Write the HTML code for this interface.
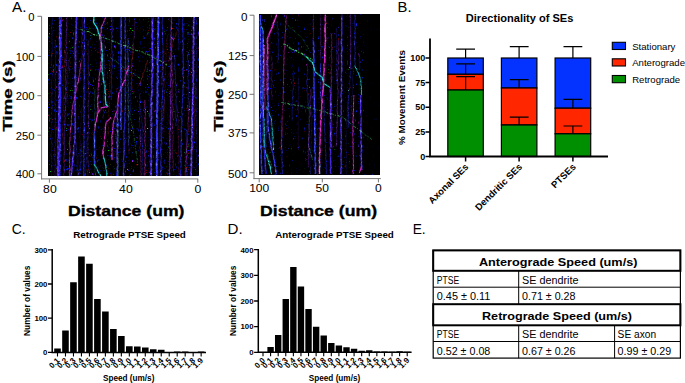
<!DOCTYPE html>
<html><head><meta charset="utf-8"><title>Figure</title>
<style>
html,body{margin:0;padding:0;background:#fff;}
body{width:685px;height:383px;overflow:hidden;font-family:"Liberation Sans",sans-serif;}
svg{display:block;font-family:"Liberation Sans",sans-serif;}
</style></head><body>
<svg width="685" height="383" viewBox="0 0 685 383">
<rect width="685" height="383" fill="#fff"/>
<defs>
<filter id="spk" x="-5%" y="-5%" width="110%" height="110%" color-interpolation-filters="sRGB">
<feTurbulence type="fractalNoise" baseFrequency="0.5 0.33" numOctaves="2" seed="4" result="n"/>
<feColorMatrix in="n" type="matrix" values="0 0 0 0 0 0 0 0 0 0 0 0 0 0 0 2.8 0 0 0 -0.4" result="a1"/>
<feComposite in="SourceGraphic" in2="a1" operator="in" result="s1"/>
<feGaussianBlur in="s1" stdDeviation="0.33" result="s1b"/>
<feColorMatrix in="n" type="matrix" values="0 0 0 0 0 0 0 0 0 0 0 0 0 0 0 0 5 0 0 -2.75" result="a2"/>
<feComposite in="SourceGraphic" in2="a2" operator="in" result="s2"/>
<feColorMatrix in="s2" type="matrix" values="0.75 0 0 0 0.3 0 0.75 0 0 0.3 0 0 0.75 0 0.3 0 0 0 1 0" result="s2w"/>
<feGaussianBlur in="s2w" stdDeviation="0.4" result="s2b"/>
<feGaussianBlur in="SourceGraphic" stdDeviation="1.4" result="g"/>
<feColorMatrix in="g" type="matrix" values="1 0 0 0 0 0 1 0 0 0 0 0 1 0 0 0 0 0 0.18 0" result="g2"/>
<feMerge><feMergeNode in="g2"/><feMergeNode in="s1b"/><feMergeNode in="s2b"/></feMerge>
</filter>
<filter id="nzA" x="0" y="0" width="100%" height="100%" color-interpolation-filters="sRGB">
<feTurbulence type="fractalNoise" baseFrequency="0.55 0.22" numOctaves="3" seed="11" result="n"/>
<feColorMatrix in="n" type="matrix" values="1.6 2.4 0 0 -2.7  0.9 0 0 0 -0.62  4.5 0 0 0 -2.95  0 0 0 0 1"/>
</filter>
<filter id="nzB" x="0" y="0" width="100%" height="100%" color-interpolation-filters="sRGB">
<feTurbulence type="fractalNoise" baseFrequency="0.55 0.22" numOctaves="3" seed="23" result="n"/>
<feColorMatrix in="n" type="matrix" values="1.6 2.4 0 0 -2.8  0.9 0 0 0 -0.64  4.5 0 0 0 -3.1  0 0 0 0 1"/>
</filter>
<filter id="dotA" x="0" y="0" width="100%" height="100%" color-interpolation-filters="sRGB">
<feTurbulence type="fractalNoise" baseFrequency="0.95" numOctaves="1" seed="31" result="n"/>
<feColorMatrix in="n" type="matrix" values="6 0 0 0 -4.1  0 6 0 0 -4.1  0 0 6 0 -3.9  0 0 0 0 1" result="c"/>
<feColorMatrix in="c" type="matrix" values="1 0 0 0 0 0 1 0 0 0 0 0 1 0 0 1 1 1 0 0"/>
</filter>
<filter id="dotB" x="0" y="0" width="100%" height="100%" color-interpolation-filters="sRGB">
<feTurbulence type="fractalNoise" baseFrequency="0.95" numOctaves="1" seed="47" result="n"/>
<feColorMatrix in="n" type="matrix" values="6 0 0 0 -4.25  0 6 0 0 -4.25  0 0 6 0 -4.1  0 0 0 0 1" result="c"/>
<feColorMatrix in="c" type="matrix" values="1 0 0 0 0 0 1 0 0 0 0 0 1 0 0 1 1 1 0 0"/>
</filter>
</defs>

<text x="12" y="11.8" font-size="15" text-anchor="start" fill="#000" textLength="14.4" lengthAdjust="spacingAndGlyphs">A.</text>
<rect x="48.5" y="17" width="150.0" height="158.8" fill="#03020c"/>
<rect x="48.5" y="17" width="150.0" height="158.8" filter="url(#nzA)"/>
<rect x="48.5" y="17" width="150.0" height="158.8" filter="url(#dotA)"/>
<g filter="url(#spk)">
<polyline points="60.2,17.0 60.1,19.0 60.4,21.1 60.0,23.1 60.3,25.2 60.2,27.2 60.0,29.3 60.2,31.3 59.9,33.4 60.2,35.4 59.9,37.5 59.9,39.5 60.1,41.6 60.4,43.6 59.9,45.7 60.0,47.7 60.2,49.8 60.4,51.8 60.2,53.9 60.1,55.9 60.4,58.0 59.8,60.0 60.3,62.0 59.9,64.0 59.8,66.0 59.8,68.0 59.8,70.0 60.1,72.0 59.7,74.0 59.9,76.0 59.9,78.0 59.7,80.0 59.8,82.0 59.5,84.0 59.5,86.0 59.5,88.0 59.8,90.0 59.6,92.0 59.5,94.0 59.6,96.0 59.5,98.0 59.4,100.0 59.7,102.0 59.6,104.0 59.3,106.0 59.5,108.0 59.4,110.0 59.6,112.0 59.4,114.0 59.1,116.0 59.5,118.0 58.9,120.0 59.0,122.0 59.2,124.0 58.8,126.0 58.9,128.0 58.6,130.0 58.9,132.0 58.9,134.0 58.8,136.0 58.9,138.0 58.5,140.0 58.7,142.0 58.6,144.0 58.6,146.0 58.5,148.0 58.7,150.0 58.7,152.0 58.4,154.0 58.5,156.0 58.1,158.0 58.4,160.0 58.4,162.0 58.6,164.0 58.4,166.0 58.1,168.0 58.1,170.0 58.3,172.0 57.8,174.0 58.1,176.0" fill="none" stroke="#4e2cf2" stroke-width="2.21" stroke-opacity="1.0"/>
<polyline points="61.2,17.0 61.0,19.0 60.9,21.1 60.9,23.1 61.3,25.2 60.9,27.2 61.0,29.2 61.0,31.3 61.3,33.3 60.8,35.3 61.0,37.4 61.1,39.4 61.2,41.5 61.2,43.5 61.2,45.5 60.8,47.6 60.9,49.6 60.9,51.7 61.2,53.7 61.2,55.7 60.7,57.8 60.7,59.8 60.7,61.8 60.7,63.9 60.8,65.9 60.9,68.0 60.7,70.0 60.5,72.0 60.7,74.0 60.7,76.0 60.8,78.0 61.0,80.0 60.8,82.0 60.7,84.0 60.7,86.0 60.7,88.0 60.3,90.0 60.8,92.0 60.7,94.0 60.8,96.0 60.7,98.0 60.5,100.0 60.4,102.0 60.2,104.0 60.5,106.0 60.2,108.0 60.2,110.0 60.2,112.0 60.2,114.0 60.3,116.0 60.1,118.0 60.0,120.0 60.1,122.0 60.1,124.0 60.2,126.0 60.0,128.0 60.5,130.0 60.3,132.0 60.0,134.0 60.0,136.0 60.1,138.0 60.1,140.0 59.9,142.0 60.3,144.0 60.4,146.0 60.0,148.0 60.0,150.0 59.8,152.0 59.8,154.0 59.9,156.0 59.8,158.0 60.1,160.0 59.7,162.0 59.6,164.0 60.2,166.0 59.9,168.0 59.6,170.0 59.9,172.0 59.5,174.0 59.8,176.0" fill="none" stroke="#2a28f4" stroke-width="1.10" stroke-opacity="0.9"/>
<polyline points="52.0,17.0 52.5,19.0 52.4,21.0 52.2,23.0 51.7,25.1 51.8,27.1 51.6,29.1 52.2,31.1 52.0,33.1 52.2,35.1 51.8,37.1 51.7,39.1 52.2,41.2 52.4,43.2 52.3,45.2 52.2,47.2 52.2,49.2 52.1,51.2 51.6,53.2 51.9,55.2 51.7,57.3 51.4,59.3 51.4,61.3 51.6,63.3 51.6,65.3 52.0,67.3 52.3,69.3 51.8,71.3 52.3,73.4 52.3,75.4 52.3,77.4 51.7,79.4 51.5,81.4 51.5,83.4 51.5,85.4 51.5,87.4 51.9,89.5 52.2,91.5 52.1,93.5 51.7,95.5 51.9,97.5 52.0,99.5 51.3,101.5 51.9,103.5 52.1,105.6 52.0,107.6 52.0,109.6 51.7,111.6 51.4,113.6 52.0,115.6 51.5,117.6 52.0,119.6 52.1,121.7 51.6,123.7 51.6,125.7 52.1,127.7 51.9,129.7 51.3,131.7 51.3,133.7 51.3,135.7 52.0,137.8 51.9,139.8 51.3,141.8 51.9,143.8 52.1,145.8 51.7,147.8 51.4,149.8 51.6,151.8 51.2,153.9 51.1,155.9 52.0,157.9 51.7,159.9 51.6,161.9 52.0,163.9 51.5,165.9 51.9,167.9 51.8,170.0 51.2,172.0 51.3,174.0 51.5,176.0" fill="none" stroke="#2a28f4" stroke-width="0.68" stroke-opacity="0.35"/>
<polyline points="55.3,40.0 55.2,42.0 55.6,44.0 55.2,46.0 55.4,48.0 55.1,50.0 55.9,52.0 55.3,54.0 55.4,56.0 55.5,58.0 55.8,60.0 55.3,62.0 55.8,64.0 55.4,66.0 55.4,68.0 55.4,70.0 54.9,72.0 55.3,74.0 55.1,76.0 54.9,78.0 55.7,80.0 55.0,82.0 55.3,84.0 55.6,86.0 55.4,88.0 55.1,90.0 55.3,92.0 55.4,94.0 55.6,96.0 54.9,98.0 55.3,100.0 55.0,102.0 55.0,104.0 55.5,106.0 55.3,108.0 55.3,110.0 55.5,112.0 55.6,114.0 55.2,116.0 55.3,118.0 55.2,120.0 55.2,122.0 55.4,124.0 55.1,126.0 55.2,128.0 55.1,130.0 55.6,132.0 55.4,134.0 55.5,136.0 55.6,138.0 54.9,140.0 55.2,142.0 55.6,144.0 55.5,146.0 54.7,148.0 54.7,150.0 55.0,152.0 54.7,154.0 54.8,156.0 54.6,158.0 55.2,160.0 55.3,162.0 55.4,164.0 54.7,166.0 55.2,168.0 55.2,170.0 54.7,172.0 55.4,174.0 55.0,176.0" fill="none" stroke="#7c24cc" stroke-width="0.68" stroke-opacity="0.35"/>
<polyline points="67.2,17.0 66.4,19.0 67.1,21.1 66.5,23.1 66.6,25.2 67.1,27.2 66.9,29.2 66.2,31.3 66.4,33.3 66.5,35.3 66.3,37.4 66.1,39.4 66.2,41.5 66.6,43.5 65.8,45.5 66.4,47.6 66.2,49.6 65.8,51.7 66.0,53.7 66.3,55.7 66.2,57.8 65.7,59.8 66.6,61.8 66.4,63.9 66.5,65.9 65.6,68.0 65.8,70.0 65.5,72.0 66.2,74.0 65.6,76.0 65.5,78.0 65.7,80.0 66.2,82.0 66.0,84.0 65.4,86.0 65.3,88.0 66.0,90.0 65.6,92.0 65.7,94.0 65.0,96.0 65.0,98.0 65.5,100.0 65.2,102.0 64.8,104.0 65.7,106.0 65.3,108.0 65.4,110.0 64.7,112.0 65.4,114.0 64.6,116.0 65.3,118.0 64.9,120.0 64.7,122.0 64.9,124.0 65.2,126.0 64.5,128.0 64.3,130.0 64.7,132.0 64.4,134.0 64.2,136.0 64.2,138.0 64.1,140.0 64.2,142.0 64.3,144.0 64.3,146.0 64.7,148.0 64.2,150.0 64.4,152.0 64.0,154.0 64.2,156.0 63.8,158.0 64.0,160.0 63.7,162.0 64.4,164.0 64.2,166.0 63.8,168.0 64.1,170.0 64.5,172.0 63.6,174.0 64.0,176.0" fill="none" stroke="#7c24cc" stroke-width="0.85" stroke-opacity="0.5"/>
<polyline points="76.7,17.0 76.4,19.0 76.4,21.0 76.5,23.0 76.2,25.0 76.1,27.0 76.2,29.0 76.3,31.0 75.8,33.0 76.1,35.0 75.9,37.0 75.8,39.0 75.6,41.0 75.5,43.0 75.2,45.0 75.3,47.0 75.2,49.1 75.6,51.1 75.3,53.1 75.3,55.2 75.2,57.2 75.6,59.2 75.6,61.2 75.5,63.3 75.3,65.3 75.2,67.3 75.3,69.4 75.4,71.4 75.2,73.4 75.3,75.5 75.2,77.5 75.6,79.5 75.6,81.6 75.4,83.6 75.2,85.6 75.6,87.7 75.2,89.7 75.2,91.7 75.0,93.8 75.2,95.8 75.2,97.8 75.2,99.8 75.1,101.9 75.2,103.9 74.9,105.9 75.1,108.0 75.0,110.0 75.1,112.0 74.9,114.0 74.9,116.0 75.0,118.0 75.0,120.0 75.2,122.0 75.1,124.0 75.2,126.0 75.2,128.0 75.2,130.0 75.3,132.0 75.0,134.0 74.9,136.0 75.3,138.0 74.8,140.0 74.9,142.0 74.6,144.0 74.1,146.0 74.3,148.0 74.1,150.0 73.7,152.0 73.6,154.0 73.4,156.0 72.8,158.0 72.8,160.0 72.6,162.0 72.5,164.0 72.3,166.0 72.1,168.0 71.7,170.0 71.7,172.0 71.3,174.0 71.0,176.0" fill="none" stroke="#4e2cf2" stroke-width="1.61" stroke-opacity="0.9"/>
<polyline points="82.0,60.0 81.2,62.2 80.7,64.4 80.4,66.6 80.2,68.8 79.7,70.9 79.9,73.1 79.3,75.3 79.0,77.5 78.6,79.7 78.2,81.7 77.6,83.7 76.8,85.8 77.0,87.8 76.5,89.8 75.9,91.8 75.5,93.8 75.2,95.9 74.3,97.9 74.4,99.9 73.5,101.9 73.0,103.9 72.7,106.0 72.6,108.0 71.8,110.0 72.1,112.0 72.1,114.0 71.6,116.0 71.4,118.0 71.3,120.0 71.3,122.0 71.3,124.0 71.0,126.0 70.9,128.0 70.3,130.0 70.3,132.0 70.2,134.0 70.5,136.0 70.0,138.0 70.1,140.0 69.6,142.0 69.6,144.0 69.7,146.0 70.0,148.0 70.0,150.0 70.0,152.0 69.6,154.0 69.8,156.0 69.7,158.0 69.7,160.0 69.4,162.0 70.0,164.0 69.4,166.0 70.0,168.0 69.9,170.0 69.2,172.0 69.5,174.0 69.5,176.0" fill="none" stroke="#d428c4" stroke-width="0.94" stroke-opacity="0.7"/>
<polyline points="84.6,17.0 84.7,19.0 84.4,21.1 84.2,23.1 84.2,25.2 84.6,27.2 84.2,29.3 84.4,31.3 84.1,33.4 84.3,35.4 84.6,37.5 84.1,39.5 84.5,41.6 84.3,43.6 84.5,45.7 84.4,47.7 84.1,49.8 84.5,51.8 84.2,53.9 83.9,55.9 83.9,58.0 84.2,60.0 84.2,62.0 84.1,64.0 84.0,66.0 84.1,68.0 84.1,70.0 84.4,72.0 83.9,74.0 84.3,76.0 84.3,78.0 83.9,80.0 84.4,82.0 84.2,84.0 84.4,86.0 84.0,88.0 84.0,90.0 84.0,92.0 84.4,94.0 84.1,96.0 84.0,98.0 84.0,100.0 83.9,102.0 83.8,104.0 83.8,106.0 84.2,108.0 83.9,110.0 84.3,112.0 83.9,114.0 83.9,116.0 84.0,118.0 83.8,120.0 83.9,122.0 84.3,124.0 84.2,126.0 84.2,128.0 84.0,130.0 84.2,132.0 84.2,134.0 84.0,136.0 84.1,138.0 83.7,140.0 84.1,142.0 83.9,144.0 84.1,146.0 84.0,148.0 83.8,150.0 83.6,152.0 84.1,154.0 83.6,156.0 83.8,158.0 83.8,160.0 83.7,162.0 84.0,164.0 84.1,166.0 83.7,168.0 83.9,170.0 83.7,172.0 83.8,174.0 83.8,176.0" fill="none" stroke="#2a28f4" stroke-width="1.19" stroke-opacity="0.75"/>
<polyline points="82.4,17.0 82.1,19.0 82.1,21.1 82.1,23.1 82.8,25.2 82.4,27.2 82.1,29.3 82.7,31.3 82.8,33.4 82.2,35.4 81.9,37.5 81.9,39.5 81.8,41.6 82.0,43.6 81.8,45.7 81.9,47.7 81.9,49.8 82.2,51.8 82.5,53.9 82.3,55.9 81.9,58.0 82.0,60.0" fill="none" stroke="#7c24cc" stroke-width="0.68" stroke-opacity="0.4"/>
<polyline points="88.3,40.0 88.4,42.0 88.3,44.0 88.2,46.0 88.0,48.0 88.2,50.0 88.9,52.0 88.0,54.0 88.4,56.0 88.5,58.0 88.8,60.0 88.1,62.0 88.2,64.0 88.1,66.0 88.3,68.0 88.3,70.0 88.9,72.0 88.7,74.0 88.8,76.0 87.9,78.0 87.9,80.0 88.6,82.0 88.8,84.0 88.4,86.0 88.5,88.0 87.9,90.0 88.3,92.0 88.8,94.0 88.7,96.0 88.8,98.0 88.9,100.0 88.1,102.0 88.0,104.0 88.1,106.0 88.4,108.0 88.6,110.0 88.8,112.0 88.6,114.0 88.5,116.0 88.6,118.0 88.3,120.0 88.4,122.0 87.9,124.0 88.6,126.0 88.0,128.0 88.7,130.0 88.4,132.0 88.1,134.0 87.9,136.0 88.0,138.0 88.4,140.0 88.4,142.0 87.8,144.0 87.8,146.0 88.2,148.0 88.2,150.0 88.0,152.0 87.9,154.0 88.2,156.0 87.6,158.0 87.9,160.0 88.0,162.0 88.5,164.0 88.2,166.0 88.4,168.0 88.0,170.0 87.8,172.0 87.8,174.0 88.0,176.0" fill="none" stroke="#7c24cc" stroke-width="0.68" stroke-opacity="0.4"/>
<polyline points="93.9,17.0 93.7,19.4 93.5,21.9 94.3,23.7 95.6,25.5 96.7,27.3 97.6,29.1 98.0,31.2 98.8,33.2 99.5,35.3 99.7,37.3 100.1,39.4 100.8,41.4 101.5,43.5 101.7,45.9 101.6,48.3 102.1,50.6 102.2,53.0 102.2,55.4 102.0,57.4 102.5,59.5 102.1,61.5 102.4,63.6 102.0,65.7 102.0,67.7 102.4,69.8 102.1,71.8 102.8,73.9 102.9,75.9 103.1,78.0 103.5,80.1 104.0,82.2 104.5,84.2 105.1,86.3 104.7,88.3 105.0,90.4 105.1,92.4 105.7,94.5 105.3,96.5 105.4,98.6 105.5,100.6 105.9,102.7 106.3,104.7 108.0,106.6" fill="none" stroke="#22d8d8" stroke-width="1.27" stroke-opacity="1.0"/>
<polyline points="105.6,17.3 104.6,19.6 103.7,21.9 102.7,24.2 101.4,26.5 101.1,29.1 101.3,31.7 100.9,34.3 100.6,36.4 101.0,38.6 100.9,40.7 101.0,42.9 101.0,45.0 101.0,47.1 100.9,49.3 101.1,51.4 101.2,53.6 101.7,55.7 101.2,57.9 101.8,60.0 101.0,62.2 100.8,64.4 100.8,66.6 100.5,68.8 100.0,70.9 99.5,73.1 99.5,75.3 99.1,77.5 99.2,79.7 98.6,81.8 98.6,83.9 98.8,86.0 98.2,88.0 98.3,90.1 98.4,92.2 98.3,94.3 97.8,96.4 97.6,98.5 97.6,100.5 98.0,102.6 97.5,104.7 97.9,106.8 98.1,108.8 98.0,110.9 98.2,112.9" fill="none" stroke="#d428c4" stroke-width="1.10" stroke-opacity="0.85"/>
<polyline points="107.9,106.6 106.1,106.9 103.7,107.3 101.4,107.6 100.5,109.4 99.2,111.1 98.1,112.9 97.3,112.9 97.4,114.9 97.1,117.0 96.6,119.0 96.4,121.1 95.5,123.1 95.2,125.2 95.0,127.2 94.9,129.3 94.3,131.3" fill="none" stroke="#d428c4" stroke-width="1.19" stroke-opacity="0.95"/>
<polyline points="94.6,131.3 94.2,133.4 94.2,135.4 94.3,137.5 94.3,139.5 94.6,141.6 94.1,143.6 94.5,145.7 94.4,147.8 94.5,149.8 94.5,151.9 94.4,153.9 94.2,156.0 94.2,158.0 94.2,160.1 94.5,162.1 94.3,164.2" fill="none" stroke="#3438ff" stroke-width="1.19" stroke-opacity="0.9"/>
<polyline points="94.0,164.2 95.1,165.9 96.4,167.7 97.1,169.4 98.0,171.2 98.9,172.9 100.2,174.7 101.0,176.0" fill="none" stroke="#22d8d8" stroke-width="1.10" stroke-opacity="0.95"/>
<polyline points="110.6,117.5 109.5,119.0 107.9,120.6 106.4,122.1 105.8,124.1 105.5,126.2 105.3,128.2 105.4,130.2 105.3,132.2 105.0,134.3 104.7,136.3 104.6,138.3 104.5,140.3 104.4,142.4 104.2,144.4 104.0,146.4 103.5,148.4 102.9,150.3 103.0,152.3 103.0,154.3 103.5,156.3" fill="none" stroke="#d428c4" stroke-width="1.19" stroke-opacity="0.95"/>
<polyline points="103.5,156.3 103.9,158.4 104.7,160.5 104.9,162.6 105.4,164.7 105.9,166.8 106.1,169.1 106.7,171.4 106.7,173.7 106.8,176.0" fill="none" stroke="#22d8d8" stroke-width="1.02" stroke-opacity="0.9"/>
<polyline points="111.8,17.0 111.9,19.0 112.5,21.1 112.0,23.1 111.7,25.2 112.3,27.2 112.2,29.3 112.5,31.3 111.6,33.4 112.0,35.4 112.3,37.5 112.3,39.5 112.4,41.6 111.5,43.6 111.8,45.7 111.6,47.7 111.7,49.8 112.5,51.8 112.1,53.9 112.4,55.9 111.9,58.0 112.4,60.0 111.9,62.0 111.7,64.0 112.2,66.0 112.3,68.0 111.5,70.0 111.9,72.0 111.9,74.0 111.5,76.0 111.6,78.0 111.4,80.0 111.4,82.0 111.5,84.0 111.8,86.0 111.8,88.0 111.3,90.0 111.1,92.0 111.4,94.0 111.7,96.0 111.2,98.0 111.5,100.0" fill="none" stroke="#2a28f4" stroke-width="0.85" stroke-opacity="0.5"/>
<polyline points="129.0,65.3 128.3,67.4 128.0,69.5 127.1,71.7 126.2,73.8 125.5,75.9 125.1,78.0 124.5,80.2 123.9,82.3 122.7,84.3 121.9,86.3 121.3,88.2 120.3,90.2 119.3,92.2 118.5,94.2 118.7,96.5 118.1,98.7 118.1,101.0 117.8,103.2 117.6,105.5 117.7,107.7 117.6,110.0 116.6,112.0 115.8,114.0 115.4,116.0 114.5,118.1 113.7,120.1 113.5,122.1 113.1,124.3 113.1,126.6 112.7,128.8 112.8,131.1 112.3,133.3 112.0,135.6 111.7,137.8 112.0,139.8 112.1,141.8 112.2,143.9 111.8,145.9 112.1,147.9 111.9,149.9 112.0,151.9 111.8,153.9 111.9,156.0 112.0,158.0 112.0,160.0" fill="none" stroke="#d428c4" stroke-width="1.19" stroke-opacity="0.9"/>
<polyline points="117.6,105.0 117.1,107.1 117.3,109.1 117.5,111.2 117.6,113.2 117.1,115.3 117.1,117.4 117.6,119.4 117.6,121.5 117.3,123.5 117.0,125.6 117.6,127.6 117.2,129.7 117.5,131.8 117.4,133.8 117.5,135.9 117.1,137.9 117.5,140.0 117.1,142.0 117.3,144.0 117.5,146.0 117.5,148.0 117.2,150.0 117.2,152.0 117.3,154.0 117.4,156.0 117.3,158.0 117.2,160.0 117.3,162.0 117.6,164.0 117.7,166.0 117.2,168.0 117.5,170.0 117.6,172.0 117.2,174.0 117.5,176.0" fill="none" stroke="#4e2cf2" stroke-width="1.44" stroke-opacity="0.9"/>
<polyline points="121.4,17.0 121.0,19.0 121.2,21.1 121.2,23.1 121.2,25.2 121.0,27.2 121.1,29.3 121.2,31.3 121.1,33.4 121.2,35.4 121.1,37.5 121.1,39.5 120.8,41.6 121.1,43.6 121.1,45.7 120.9,47.7 121.2,49.8 121.2,51.8 121.0,53.9 120.8,55.9 121.0,58.0 120.8,60.0 120.8,62.0 121.0,64.1 120.8,66.1 121.0,68.2 121.0,70.2 120.7,72.3 121.1,74.3 120.7,76.4 121.1,78.4 121.2,80.5 121.0,82.5 120.7,84.5 121.0,86.6 120.9,88.6 121.3,90.7 120.8,92.7 121.2,94.8 121.3,96.8 121.1,98.9 121.2,100.9 120.8,103.0 121.3,105.0 121.0,107.1 121.3,109.2 121.2,111.2 120.8,113.3 121.2,115.4 121.3,117.5 120.7,119.6 120.9,121.7 121.2,123.8 120.8,125.8 121.2,127.9 121.0,130.0" fill="none" stroke="#3438ff" stroke-width="1.36" stroke-opacity="0.9"/>
<polyline points="125.1,17.0 125.4,19.0 125.0,21.1 125.2,23.1 125.5,25.2 125.1,27.2 125.1,29.3 125.3,31.3 125.2,33.4 125.0,35.4 125.1,37.5 125.1,39.5 125.6,41.6 125.4,43.6 125.6,45.7 125.1,47.7 125.5,49.8 125.1,51.8 125.4,53.9 125.5,55.9 125.3,58.0 125.6,60.0 125.4,62.0 125.4,64.0 125.6,66.0 125.1,68.0 125.7,70.0 125.4,72.0 125.3,74.0 125.5,76.0 125.2,78.0 125.6,80.0 125.4,82.0 125.2,84.0 125.5,86.0 125.3,88.0 125.1,90.0 125.4,92.0 125.0,94.0 125.4,96.0 125.1,98.0 125.3,100.0 125.5,102.0 125.3,104.0 125.3,106.0 125.1,108.0 124.9,110.0 124.8,112.0 124.8,114.0 125.0,116.0 124.8,118.0 124.8,120.0 125.0,122.0 124.4,124.0 124.4,126.0 124.6,128.0 124.1,130.0 124.0,132.0 124.2,134.0 123.9,136.0 124.0,138.0 123.8,140.0 124.0,142.0 124.0,144.0 123.8,146.0 124.0,148.0 123.9,150.0 123.6,152.0 124.1,154.0 123.7,156.0 123.6,158.0 123.5,160.0 123.8,162.0 124.0,164.0 123.9,166.0 123.6,168.0 123.5,170.0 123.4,172.0 123.7,174.0 123.6,176.0" fill="none" stroke="#2a28f4" stroke-width="1.19" stroke-opacity="0.75"/>
<polyline points="133.5,43.5 133.1,45.6 133.2,47.6 132.9,49.7 133.2,51.7 132.9,53.8 132.2,55.8 132.7,57.9 131.7,59.9 132.0,62.0 131.9,64.0 131.7,66.0 131.5,68.0 132.1,70.0 131.3,72.0 131.8,74.0 132.2,76.0 131.4,78.0 131.4,80.0 131.8,82.0 131.6,84.0 131.7,86.0 131.8,88.0 131.5,90.0" fill="none" stroke="#c02030" stroke-width="0.77" stroke-opacity="0.5"/>
<polyline points="147.6,60.0 147.0,62.0 146.4,63.9 145.5,65.9 145.6,67.9 144.9,69.8 144.2,71.8 142.8,73.8 143.0,75.8 142.2,77.7 141.3,79.7 140.7,81.9 139.5,84.1 138.7,86.3" fill="none" stroke="#c02030" stroke-width="0.77" stroke-opacity="0.5"/>
<polyline points="144.9,100.0 144.8,102.0 144.9,104.0 144.7,106.0 145.0,108.0 145.4,110.0 145.3,112.0 145.5,114.0 145.3,116.0 144.9,118.0 145.2,120.0 145.0,122.0 145.4,124.0 145.1,126.0 144.8,128.0 145.2,130.0 145.5,132.0 144.7,134.0 145.4,136.0 144.5,138.0 144.8,140.0 144.7,142.0 145.2,144.0 145.4,146.0 145.2,148.0 144.7,150.0 145.2,152.0 144.7,154.0 144.6,156.0 145.2,158.0 144.9,160.0 144.9,162.0 144.9,164.0 145.2,166.0 144.7,168.0 145.0,170.0 144.8,172.0 145.0,174.0 144.6,176.0" fill="none" stroke="#d428c4" stroke-width="0.85" stroke-opacity="0.55"/>
<polyline points="152.5,17.0 152.6,19.0 152.5,21.1 152.4,23.1 152.3,25.2 152.6,27.2 152.2,29.3 152.7,31.3 152.3,33.4 152.2,35.4 152.3,37.5 152.8,39.5 152.4,41.6 152.3,43.6 152.2,45.7 152.2,47.7 152.6,49.8 152.6,51.8 152.6,53.9 152.6,55.9 152.2,58.0 152.6,60.0 152.4,62.0 152.6,64.1 152.6,66.1 152.6,68.2 152.0,70.2 152.4,72.3 152.4,74.3 152.4,76.4 151.9,78.4 151.9,80.5 151.8,82.5 151.7,84.5 152.1,86.6 152.1,88.6 151.9,90.7 152.0,92.7 151.8,94.8 151.6,96.8 151.4,98.9 151.3,100.9 151.7,103.0 151.3,105.0 151.4,107.0 151.4,109.1 151.2,111.1 151.3,113.1 151.3,115.1 151.6,117.2 151.3,119.2 151.3,121.2 151.7,123.3 151.4,125.3 151.6,127.3 151.4,129.3 151.1,131.4 151.3,133.4 151.3,135.4 151.5,137.5 151.2,139.5 151.4,141.5 151.3,143.5 151.1,145.6 151.5,147.6 151.0,149.6 151.4,151.7 151.0,153.7 150.9,155.7 151.0,157.7 151.3,159.8 151.5,161.8 150.9,163.8 151.2,165.9 151.1,167.9 151.3,169.9 150.9,171.9 151.1,174.0 151.1,176.0" fill="none" stroke="#4e2cf2" stroke-width="1.70" stroke-opacity="1.0"/>
<polyline points="158.3,17.0 158.6,19.0 158.2,21.1 158.6,23.1 158.2,25.1 158.1,27.2 158.4,29.2 158.2,31.2 158.0,33.3 158.3,35.3 157.9,37.3 158.3,39.4 158.2,41.4 158.3,43.4 158.2,45.5 158.0,47.5 158.0,49.5 158.0,51.5 158.2,53.6 157.7,55.6 158.2,57.6 157.6,59.7 157.7,61.7 157.7,63.7 158.1,65.8 157.8,67.8 157.7,69.8 158.0,71.9 157.6,73.9 157.7,75.9 157.7,78.0 157.9,80.0 157.8,82.0 157.7,84.0 157.5,86.0 157.5,88.0 157.4,90.0 157.7,92.0 157.6,94.0 157.6,96.0 157.2,98.0 157.4,100.0 157.6,102.0 157.4,104.0 157.1,106.0 157.3,108.0 157.5,110.0 157.1,112.0 157.0,114.0 157.1,116.0 157.3,118.0 157.3,120.0 156.9,122.0 156.9,124.0 156.9,126.0 156.9,128.0 157.0,130.0 156.8,132.0 156.9,134.0 156.8,136.0 157.3,138.0 157.1,140.0 156.7,142.0 157.2,144.0 156.7,146.0 156.9,148.0 157.2,150.0 157.1,152.0 157.0,154.0 156.8,156.0 156.7,158.0 157.0,160.0 156.6,162.0 156.7,164.0 156.8,166.0 156.6,168.0 156.8,170.0 157.0,172.0 156.9,174.0 156.8,176.0" fill="none" stroke="#3438ff" stroke-width="1.87" stroke-opacity="1.0"/>
<polyline points="162.3,17.0 162.5,19.0 162.3,21.1 162.0,23.1 162.5,25.1 162.3,27.2 162.7,29.2 162.9,31.2 162.4,33.3 162.6,35.3 162.8,37.3 162.5,39.4 162.3,41.4 162.8,43.4 163.0,45.5 162.9,47.5 162.9,49.5 163.0,51.5 162.9,53.6 162.9,55.6 162.7,57.6 162.6,59.7 162.9,61.7 162.4,63.7 162.8,65.8 163.1,67.8 163.1,69.8 163.0,71.9 162.7,73.9 162.9,75.9 162.9,78.0 163.1,80.0 162.8,82.0 163.0,84.0 163.2,86.0 162.4,88.0 162.8,90.0 162.8,92.0 162.3,94.0 162.3,96.0 162.8,98.0 161.7,100.0 162.2,102.0 161.7,104.0 162.2,106.0 162.3,108.0 161.8,110.0 161.3,112.0 161.7,114.0 161.6,116.0 161.7,118.0 161.4,120.0 161.5,122.0 161.6,124.0 161.2,126.0 161.0,128.0 161.4,130.0 160.7,132.0 161.2,134.0 160.9,136.0 161.3,138.0 160.6,140.0 161.5,142.0 160.9,144.0 160.6,146.0 160.8,148.0 160.9,150.0 160.5,152.0 160.9,154.0 160.9,156.0 161.2,158.0 160.9,160.0 160.8,162.0 160.7,164.0 161.2,166.0 161.4,168.0 161.0,170.0 160.7,172.0 161.3,174.0 161.0,176.0" fill="none" stroke="#2a28f4" stroke-width="0.94" stroke-opacity="0.6"/>
<polyline points="177.9,29.0 177.0,30.9 176.1,32.8 176.0,34.7 175.3,36.5 174.4,38.4 173.5,40.3 172.9,42.2 172.1,44.2 172.5,46.2 171.5,48.1 171.4,50.1 171.2,52.1 170.8,54.1 170.0,56.1 169.5,58.0 169.3,60.0 168.9,62.0" fill="none" stroke="#c02030" stroke-width="0.77" stroke-opacity="0.5"/>
<polyline points="171.3,17.0 171.7,19.0 171.4,21.1 171.6,23.1 171.3,25.1 171.3,27.2 171.2,29.2 171.3,31.2 171.1,33.3 171.0,35.3 171.4,37.3 171.1,39.4 171.1,41.4 171.1,43.4 171.2,45.5 171.1,47.5 171.2,49.5 171.2,51.5 171.0,53.6 171.3,55.6 171.3,57.6 170.8,59.7 171.2,61.7 171.2,63.7 171.1,65.8 170.7,67.8 171.1,69.8 171.0,71.9 170.6,73.9 170.6,75.9 171.1,78.0 170.9,80.0 170.6,82.0 170.5,84.0 170.5,86.0 170.5,88.0 170.8,90.0 170.6,92.0 170.4,94.0 170.9,96.0 170.8,98.0 170.4,100.0 170.8,102.0 170.6,104.0 170.7,106.0 170.6,108.0 170.7,110.0 170.6,112.0 170.6,114.0 170.2,116.0 170.5,118.0 170.3,120.0 170.4,122.0 170.2,124.0 170.5,126.0 170.3,128.0 170.1,130.0 170.0,132.0 169.9,134.0 170.1,136.0 169.8,138.0 170.0,140.0 169.8,142.0 170.0,144.0 170.0,146.0 169.9,148.0 170.1,150.0 169.6,152.0 170.0,154.0 169.8,156.0 169.8,158.0 169.8,160.0 169.9,162.0 169.6,164.0 169.6,166.0 169.9,168.0 169.3,170.0 169.6,172.0 169.6,174.0 169.5,176.0" fill="none" stroke="#7c24cc" stroke-width="1.19" stroke-opacity="0.7"/>
<polyline points="178.2,17.0 178.8,19.1 178.9,21.1 179.1,23.2 178.5,25.2 179.2,27.3 178.7,29.4 178.7,31.4 179.1,33.5 178.2,35.6 178.9,37.6 178.8,39.7 178.5,41.8 179.1,43.8 178.6,45.9 178.7,47.9 178.7,50.0" fill="none" stroke="#2a28f4" stroke-width="0.77" stroke-opacity="0.5"/>
<polyline points="182.7,17.0 182.9,19.0 182.6,21.1 182.7,23.1 182.7,25.1 182.8,27.2 183.0,29.2 182.7,31.2 183.1,33.3 182.8,35.3 182.9,37.3 182.8,39.4 182.9,41.4 183.2,43.4 183.1,45.5 183.2,47.5 182.9,49.5 182.9,51.5 182.9,53.6 183.1,55.6 183.2,57.6 183.3,59.7 182.8,61.7 183.3,63.7 183.4,65.8 183.2,67.8 182.9,69.8 183.1,71.9 182.9,73.9 183.1,75.9 183.5,78.0 183.4,80.0 183.3,82.0 183.3,84.0 183.3,86.0 183.1,88.0 183.0,90.0 182.9,92.0 182.9,94.0 182.7,96.0 182.7,98.0 182.4,100.0 182.6,102.0 182.4,104.0 182.5,106.0 182.0,108.0 182.0,110.0 181.8,112.0 182.2,114.0 182.2,116.0 181.9,118.0 181.7,120.0 181.9,122.0 181.8,124.0 181.6,126.0 181.3,128.0 181.3,130.0 181.3,132.0 181.2,134.0 181.3,136.0 181.4,138.0 181.5,140.0 181.0,142.0 181.2,144.0 180.9,146.0 180.9,148.0 181.3,150.0 181.1,152.0 181.3,154.0 181.0,156.0 180.7,158.0 180.9,160.0 181.0,162.0 181.1,164.0 181.1,166.0 180.8,168.0 180.7,170.0 180.5,172.0 180.8,174.0 180.7,176.0" fill="none" stroke="#2a28f4" stroke-width="1.10" stroke-opacity="0.65"/>
<polyline points="186.3,130.0 186.3,132.0 186.1,134.0 186.1,136.0 186.8,138.0 186.2,140.0 187.1,142.0 186.2,144.0 187.0,146.0 186.2,148.0 186.1,150.0 186.8,152.0 186.3,154.0 186.8,156.0 186.3,158.0 186.2,160.0 186.9,162.0 186.8,164.0 187.0,166.0 186.8,168.0 186.2,170.0 186.7,172.0 186.8,174.0 186.6,176.0" fill="none" stroke="#2a28f4" stroke-width="0.77" stroke-opacity="0.5"/>
<polyline points="193.8,17.0 194.0,19.0 193.6,21.1 194.0,23.1 193.9,25.1 193.4,27.2 193.4,29.2 193.8,31.2 193.8,33.3 193.4,35.3 193.5,37.3 193.7,39.4 193.4,41.4 193.8,43.4 193.5,45.5 193.2,47.5 193.4,49.5 193.5,51.5 193.4,53.6 193.5,55.6 193.2,57.6 193.6,59.7 193.3,61.7 193.4,63.7 193.4,65.8 193.3,67.8 193.2,69.8 193.4,71.9 193.5,73.9 193.4,75.9 193.3,78.0 193.1,80.0 192.9,82.0 193.4,84.0 193.2,86.0 193.2,88.0 192.8,90.0 193.0,92.0 193.1,94.0 193.0,96.0 192.8,98.0 192.6,100.0 192.6,102.0 192.8,104.0 192.5,106.0 192.6,108.0 192.5,110.0 192.6,112.0 192.5,114.0 192.1,116.0 191.9,118.0 192.0,120.0 192.1,122.0 192.1,124.0 192.2,126.0 192.2,128.0 191.6,130.0 192.1,132.0 192.0,134.0 192.0,136.0 191.8,138.0 191.6,140.0 191.9,142.0 191.9,144.0 191.8,146.0 191.9,148.0 191.5,150.0 191.3,152.0 191.6,154.0 191.7,156.0 191.3,158.0 191.6,160.0 191.7,162.0 191.2,164.0 191.4,166.0 191.4,168.0 191.3,170.0 191.1,172.0 191.1,174.0 191.2,176.0" fill="none" stroke="#4e2cf2" stroke-width="1.70" stroke-opacity="1.0"/>
<polyline points="196.8,17.0 196.8,19.0 196.5,21.0 196.1,23.0 196.8,25.1 196.8,27.1 196.2,29.1 196.6,31.1 196.9,33.1 196.9,35.1 196.5,37.1 196.5,39.1 196.6,41.2 196.2,43.2 196.2,45.2 196.2,47.2 196.7,49.2 196.4,51.2 196.6,53.2 196.4,55.2 196.5,57.3 196.1,59.3 196.0,61.3 197.0,63.3 196.4,65.3 196.1,67.3 196.6,69.3 196.8,71.3 196.2,73.4 196.6,75.4 196.3,77.4 196.5,79.4 196.0,81.4 196.0,83.4 197.0,85.4 196.9,87.4 196.5,89.5 196.6,91.5 196.3,93.5 196.8,95.5 196.4,97.5 196.9,99.5 196.8,101.5 196.8,103.5 197.0,105.6 196.3,107.6 196.0,109.6 196.2,111.6 196.2,113.6 196.1,115.6 196.1,117.6 196.6,119.6 196.9,121.7 196.5,123.7 196.9,125.7 196.9,127.7 196.1,129.7 196.6,131.7 196.4,133.7 196.1,135.7 197.0,137.8 196.3,139.8 196.6,141.8 196.6,143.8 197.0,145.8 196.7,147.8 196.4,149.8 196.4,151.8 196.2,153.9 197.0,155.9 197.0,157.9 196.2,159.9 196.0,161.9 196.3,163.9 196.4,165.9 196.9,167.9 196.9,170.0 196.8,172.0 196.0,174.0 196.5,176.0" fill="none" stroke="#2a28f4" stroke-width="0.59" stroke-opacity="0.35"/>
<polyline points="80.5,29.3 82.4,30.0 84.3,30.6 86.2,31.8 88.2,31.4 90.1,32.2 92.0,33.7 93.9,34.7 95.8,35.1 97.8,35.4 99.7,36.4 101.6,37.4 103.5,37.3 105.4,38.3 107.3,39.0 109.2,39.5 111.2,40.7 113.1,41.1 115.0,41.9 117.0,42.5 118.9,43.9 120.9,43.8 122.9,45.4 124.8,45.5 126.8,46.0 128.8,47.8 130.8,47.7 132.7,49.3 134.7,49.9 136.7,50.7 138.6,50.5 140.6,51.6 142.6,52.0 144.6,53.7 146.6,54.3 148.5,54.8 150.5,55.3 152.4,56.3 154.3,58.0 156.2,58.7 158.1,60.0 160.0,60.5 161.9,61.7 163.8,62.6 165.7,64.5 167.6,65.3" fill="none" stroke="#35d060" stroke-width="1.0" stroke-opacity="0.75" stroke-dasharray="2.6 1.2 1.2 1.6 3.4 1 1 1.4"/>
<polyline points="110.8,58.3 112.5,58.9 114.3,61.0 116.0,61.4 117.7,62.8 119.5,63.7 121.2,65.0 122.9,66.8 124.7,67.4 126.4,68.4 128.1,69.9 129.8,70.9 131.6,72.8 133.3,73.0 135.0,75.2 136.8,75.3 138.5,77.5 140.2,78.4 142.0,79.0 143.7,80.5" fill="none" stroke="#35d060" stroke-width="0.8" stroke-opacity="0.45" stroke-dasharray="2.6 1.2 1.2 1.6 3.4 1 1 1.4"/>
<polyline points="128.0,105.0 128.4,106.8 128.8,108.9 129.2,110.9 129.7,113.2 130.1,116.0 130.5,118.1 130.9,120.1 131.3,121.2 131.8,123.5 132.2,126.3 132.6,127.4 133.0,130.3 133.3,131.8 133.6,134.7 133.9,135.6 134.2,138.6 134.5,140.1 134.8,141.9 135.1,143.8 135.4,146.9 135.6,148.6 135.9,150.2 136.2,152.6 136.5,155.2 136.8,156.4 137.1,158.9 137.4,160.4 137.7,162.6 138.0,165.0" fill="none" stroke="#35d060" stroke-width="0.8" stroke-opacity="0.4" stroke-dasharray="2.6 1.2 1.2 1.6 3.4 1 1 1.4"/>
<polyline points="141.5,112.5 142.1,114.7 141.8,116.8 141.8,118.9 141.5,121.0 141.9,123.1 142.6,125.2 142.3,127.3 142.2,129.4 142.3,131.5 142.6,133.6 142.7,135.7 142.1,137.8 142.7,140.0 142.5,142.1 142.7,144.2 142.4,146.3 142.6,148.4 142.5,150.5 142.6,152.6 142.3,154.7 142.4,156.8 142.8,158.9 142.3,161.0 142.5,163.1 143.0,165.3 142.6,167.4 142.7,169.5 142.6,171.6 143.2,173.7 142.9,175.8" fill="none" stroke="#2a28f4" stroke-width="0.59" stroke-opacity="0.455297473746347"/>
<polyline points="163.9,49.1 164.3,51.2 164.3,53.4 163.4,55.6 163.4,57.7 163.5,59.9 163.1,62.1 162.7,64.2 162.1,66.4 162.3,68.6 162.1,70.7 162.3,72.9 161.7,75.1 161.6,77.2 161.7,79.4 161.7,81.6 161.2,83.7" fill="none" stroke="#c02030" stroke-width="0.59" stroke-opacity="0.32661221677253427"/>
<polyline points="64.4,49.1 64.4,51.2 64.6,53.3 64.8,55.4 64.0,57.4 64.8,59.5 64.4,61.6 64.0,63.7 64.3,65.8 63.9,67.9 63.6,69.9 64.2,72.0 63.7,74.1 63.8,76.2 63.7,78.3 64.1,80.4 63.9,82.4 63.1,84.5 63.6,86.6 63.4,88.7 63.3,90.8 63.7,92.9 63.2,94.9 63.2,97.0 63.6,99.1 63.1,101.2 63.1,103.3 63.2,105.3 63.5,107.4 63.3,109.5 63.3,111.6 63.0,113.7 62.6,115.8 63.2,117.8 63.1,119.9 63.3,122.0 63.3,124.1 62.6,126.2 62.7,128.3 62.5,130.3 63.3,132.4 62.5,134.5 62.5,136.6 63.1,138.7 62.9,140.8 62.4,142.8 62.8,144.9" fill="none" stroke="#c02030" stroke-width="0.77" stroke-opacity="0.2646891794602507"/>
<polyline points="167.7,34.9 167.6,36.9 167.2,38.9 166.7,41.0 167.2,43.0 166.8,45.1 166.9,47.1 167.2,49.1 166.9,51.2 166.8,53.2 166.0,55.2 166.0,57.3 166.1,59.3 165.5,61.4 166.3,63.4 165.5,65.4 165.4,67.5 165.3,69.5 165.1,71.5 165.6,73.6 165.2,75.6 165.0,77.7 164.9,79.7 164.5,81.7 164.7,83.8 165.2,85.8 165.1,87.8 165.1,89.9 164.5,91.9 164.4,94.0 164.2,96.0 164.7,98.0 164.5,100.1 164.5,102.1 164.5,104.1 164.5,106.2 164.3,108.2 164.7,110.3 164.0,112.3 164.7,114.3 164.3,116.4 163.8,118.4 164.2,120.4" fill="none" stroke="#c02030" stroke-width="0.59" stroke-opacity="0.278647787098633"/>
<polyline points="81.2,143.5 81.4,145.6 81.2,147.6 81.3,149.6 81.0,151.6 80.9,153.6 81.3,155.6 80.8,157.7 81.1,159.7 81.0,161.7 80.5,163.7 80.2,165.7 80.4,167.7 79.7,169.8 79.8,171.8 78.8,173.8 79.0,175.8" fill="none" stroke="#2a28f4" stroke-width="0.94" stroke-opacity="0.39520445478959576"/>
<polyline points="76.3,141.8 76.6,143.9 76.1,146.0 76.9,148.1 76.2,150.3 76.8,152.4 76.4,154.5 77.2,156.6 76.9,158.8 77.3,160.9 77.1,163.0 77.3,165.2 77.4,167.3 77.2,169.4 77.2,171.5 77.9,173.7 77.7,175.8" fill="none" stroke="#2a28f4" stroke-width="0.77" stroke-opacity="0.33617387925436865"/>
<polyline points="187.6,51.0 188.4,53.1 187.8,55.3 187.7,57.4 187.7,59.5 188.4,61.7 188.6,63.8 188.1,65.9 188.4,68.1 188.0,70.2 188.7,72.4 188.5,74.5 188.0,76.6 187.9,78.8 188.6,80.9 187.9,83.1 188.7,85.2 188.2,87.3 188.1,89.5 188.5,91.6 188.2,93.7 188.5,95.9 188.1,98.0 188.9,100.2 188.3,102.3 188.8,104.4 188.1,106.6 188.8,108.7 188.5,110.8" fill="none" stroke="#2a28f4" stroke-width="0.94" stroke-opacity="0.41814932267823157"/>
<polyline points="59.8,62.8 59.1,64.8 58.7,66.9 59.0,68.9 59.2,71.0 58.8,73.0 59.1,75.1 58.6,77.2 58.9,79.2 59.1,81.3 58.8,83.3 59.0,85.4 58.4,87.4 59.1,89.5 58.3,91.5 59.1,93.6 59.2,95.7 59.2,97.7 58.8,99.8 58.6,101.8 58.7,103.9 59.1,105.9 58.9,108.0 59.4,110.0 58.6,112.1 59.0,114.1 59.4,116.2 59.2,118.3 59.1,120.3" fill="none" stroke="#4e2cf2" stroke-width="0.94" stroke-opacity="0.26931362253397895"/>
<polyline points="87.5,137.9 86.9,140.0 86.8,142.2 86.8,144.3 87.3,146.4 87.1,148.5 86.4,150.6 86.9,152.7 85.9,154.8 86.3,156.9 86.6,159.0 85.9,161.1 86.4,163.2 86.0,165.3 85.3,167.4 85.5,169.5 85.5,171.6 85.2,173.7 85.4,175.8" fill="none" stroke="#2a28f4" stroke-width="0.77" stroke-opacity="0.32253165323572097"/>
<polyline points="135.4,18.2 134.7,20.3 135.2,22.4 134.6,24.6 134.3,26.7 134.7,28.9 134.1,31.0 134.5,33.1 134.6,35.3 134.2,37.4 133.8,39.5 133.0,41.7 133.2,43.8 132.5,46.0 132.8,48.1 132.0,50.2 132.1,52.4" fill="none" stroke="#7c24cc" stroke-width="0.59" stroke-opacity="0.431606195486369"/>
<polyline points="187.2,138.3 186.8,140.4 186.7,142.5 186.9,144.6 186.3,146.7 186.2,148.7 186.9,150.8 186.2,152.9 186.6,155.0 186.5,157.1 186.0,159.1 185.5,161.2 185.3,163.3 186.0,165.4 185.1,167.5 185.4,169.6 185.3,171.6 184.8,173.7 185.0,175.8" fill="none" stroke="#c02030" stroke-width="0.77" stroke-opacity="0.2502548033381532"/>
<polyline points="160.2,119.7 159.8,121.7 160.1,123.7 160.0,125.7 159.8,127.7 159.5,129.7 159.7,131.7 159.4,133.7 159.2,135.7 159.2,137.7 159.8,139.7 159.3,141.7 159.6,143.7 158.7,145.7 159.5,147.7 158.9,149.7 159.0,151.7 158.6,153.8 158.5,155.8 157.9,157.8 158.2,159.8 157.4,161.8 157.3,163.8 156.9,165.8 157.1,167.8 157.0,169.8 156.6,171.8 157.0,173.8 156.5,175.8" fill="none" stroke="#2a28f4" stroke-width="0.59" stroke-opacity="0.31540734994118225"/>
<polyline points="139.5,135.2 140.0,137.3 139.8,139.3 140.2,141.3 140.4,143.4 140.4,145.4 139.8,147.4 140.1,149.4 140.5,151.5 140.9,153.5 140.1,155.5 140.7,157.6 140.8,159.6 141.0,161.6 140.5,163.6 141.1,165.7 140.8,167.7 141.3,169.7 140.4,171.7 141.4,173.8 141.0,175.8" fill="none" stroke="#d428c4" stroke-width="0.94" stroke-opacity="0.3087039959857456"/>
<polyline points="75.7,27.1 75.7,29.2 75.5,31.4 75.7,33.6 76.3,35.8 76.3,37.9 75.8,40.1 76.1,42.3 76.0,44.4 76.1,46.6 76.2,48.8 76.2,50.9 76.8,53.1 76.7,55.3 76.4,57.5 76.0,59.6 75.9,61.8 76.1,64.0 76.1,66.1 75.9,68.3 75.6,70.5" fill="none" stroke="#7c24cc" stroke-width="0.94" stroke-opacity="0.23359460579356775"/>
<polyline points="195.7,85.7 195.2,87.8 195.5,89.9 195.7,92.0 195.5,94.0 194.7,96.1 195.3,98.2 194.9,100.3 194.6,102.4 195.3,104.4 195.0,106.5 195.0,108.6 194.3,110.7 194.9,112.7 194.9,114.8 194.8,116.9 194.6,119.0 194.6,121.1 194.4,123.1 194.1,125.2 193.9,127.3 194.2,129.4 194.1,131.5 194.1,133.5 193.4,135.6 194.0,137.7 193.4,139.8 193.8,141.9 192.8,143.9 193.6,146.0 193.3,148.1 192.7,150.2 192.8,152.2" fill="none" stroke="#c02030" stroke-width="0.77" stroke-opacity="0.3475862284173862"/>
<polyline points="112.3,24.2 111.6,26.2 111.5,28.2 111.7,30.2 111.4,32.2 111.6,34.2 111.9,36.2 111.6,38.2 111.6,40.2 111.2,42.2 111.5,44.3 111.5,46.3 111.3,48.3 111.5,50.3 111.3,52.3 110.8,54.3 110.4,56.3 110.9,58.3 111.0,60.3 110.5,62.3 110.6,64.3 110.8,66.3 110.7,68.4 109.8,70.4 110.3,72.4 109.7,74.4 109.7,76.4 110.4,78.4 109.9,80.4 110.0,82.4 109.8,84.4 109.6,86.4 109.4,88.4 109.5,90.4 109.9,92.4 109.6,94.5 109.2,96.5 109.0,98.5 109.1,100.5 109.5,102.5 109.1,104.5 109.3,106.5 109.4,108.5 108.6,110.5 109.1,112.5 108.4,114.5 109.1,116.5 108.4,118.5 108.4,120.6 109.0,122.6 108.4,124.6 108.2,126.6 108.8,128.6 108.4,130.6 108.6,132.6 108.1,134.6 108.1,136.6" fill="none" stroke="#c02030" stroke-width="0.59" stroke-opacity="0.2565601116028736"/>
<polyline points="157.8,139.3 158.2,141.4 157.7,143.4 158.1,145.4 157.3,147.4 157.9,149.5 157.1,151.5 157.5,153.5 156.9,155.5 157.0,157.6 157.9,159.6 157.5,161.6 157.9,163.6 157.4,165.7 157.6,167.7 157.5,169.7 158.0,171.7 158.4,173.8 158.1,175.8" fill="none" stroke="#4e2cf2" stroke-width="0.77" stroke-opacity="0.26178869647127223"/>
<polyline points="174.5,55.0 174.5,57.1 175.1,59.1 175.1,61.2 175.0,63.3 174.5,65.4 175.1,67.5 175.0,69.5 175.6,71.6 175.1,73.7 175.5,75.8 175.5,77.9 175.3,80.0 175.5,82.0 175.8,84.1 176.1,86.2 175.8,88.3 175.7,90.4 176.3,92.4 175.4,94.5 176.2,96.6 176.1,98.7 175.9,100.8 175.8,102.9 176.2,104.9 176.3,107.0 176.2,109.1 176.2,111.2 175.5,113.3 175.8,115.3 175.6,117.4 176.4,119.5 176.4,121.6 175.7,123.7 176.0,125.8" fill="none" stroke="#2a28f4" stroke-width="0.77" stroke-opacity="0.488836776142452"/>
<polyline points="151.5,57.9 151.5,60.0 151.0,62.1 151.3,64.2 151.7,66.3 151.6,68.4 151.2,70.5 151.7,72.6 151.2,74.7 151.4,76.8 151.3,78.9 151.9,81.0 151.5,83.1 151.7,85.3 151.5,87.4 151.1,89.5 151.5,91.6 151.2,93.7 151.1,95.8 150.5,97.9 150.3,100.0 150.6,102.1 150.8,104.2 150.6,106.3 150.1,108.4 149.8,110.5 150.0,112.6" fill="none" stroke="#2a28f4" stroke-width="0.77" stroke-opacity="0.4501754012461644"/>
<polyline points="128.2,40.1 128.6,42.1 127.9,44.2 128.4,46.2 127.9,48.3 128.0,50.3 127.7,52.4 128.0,54.4 128.0,56.4 128.6,58.5 128.6,60.5 127.8,62.6 128.0,64.6 128.6,66.7 127.8,68.7 128.0,70.7 128.1,72.8 127.7,74.8 127.9,76.9 128.0,78.9 128.0,80.9 128.6,83.0 127.9,85.0 127.8,87.1 128.5,89.1 128.0,91.2 128.4,93.2 128.2,95.2 128.4,97.3 127.9,99.3 127.8,101.4 128.4,103.4 128.2,105.4 128.3,107.5 128.4,109.5 128.6,111.6 128.1,113.6 128.2,115.7 128.8,117.7 128.5,119.7 128.2,121.8 128.6,123.8 128.3,125.9 128.8,127.9 128.1,129.9 128.9,132.0 128.7,134.0 128.5,136.1 129.2,138.1 128.5,140.2 128.5,142.2 128.4,144.2 128.9,146.3 129.1,148.3 129.1,150.4 128.9,152.4 129.0,154.4" fill="none" stroke="#4e2cf2" stroke-width="0.77" stroke-opacity="0.364250084303061"/>
<polyline points="130.9,81.8 130.2,84.0 130.4,86.2 130.7,88.5 131.1,90.7 130.7,92.9 130.8,95.1 130.9,97.4 130.5,99.6 131.1,101.8 130.9,104.1 130.6,106.3 130.7,108.5 131.1,110.8 130.7,113.0 130.6,115.2 131.0,117.4" fill="none" stroke="#2a28f4" stroke-width="0.94" stroke-opacity="0.2296091897241685"/>
<polyline points="95.1,89.0 94.8,91.1 94.8,93.2 94.9,95.2 95.1,97.3 94.4,99.4 94.6,101.4 94.3,103.5 94.6,105.6 94.7,107.6 95.1,109.7 94.9,111.8 94.8,113.8 94.6,115.9 94.8,118.0 94.5,120.0 95.0,122.1 95.0,124.2 95.0,126.2 94.3,128.3 94.8,130.4 94.9,132.4 94.7,134.5 95.1,136.6 95.2,138.6 95.0,140.7 95.1,142.7 95.0,144.8 95.3,146.9 94.6,148.9 95.2,151.0 95.2,153.1 95.1,155.1 94.8,157.2 94.6,159.3 95.2,161.3 95.5,163.4 95.0,165.5 94.9,167.5 95.0,169.6 94.9,171.7 95.5,173.7 95.3,175.8" fill="none" stroke="#2a9a8a" stroke-width="0.94" stroke-opacity="0.3022785728270405"/>
<polyline points="189.9,100.7 189.6,102.8 189.1,104.9 189.3,106.9 188.6,109.0 189.3,111.1 188.6,113.2 188.2,115.3 188.7,117.4 188.1,119.5 188.2,121.5 187.8,123.6 188.1,125.7 188.1,127.8 188.3,129.9 187.4,132.0 188.1,134.1 187.3,136.2 187.3,138.2 187.6,140.3 187.2,142.4 187.0,144.5 187.2,146.6 186.7,148.7 187.2,150.8 186.5,152.8 187.0,154.9 186.8,157.0 186.4,159.1 185.8,161.2 186.5,163.3 185.6,165.4 186.0,167.5 185.8,169.5 185.3,171.6 185.7,173.7 185.5,175.8" fill="none" stroke="#d428c4" stroke-width="0.77" stroke-opacity="0.4080600186931478"/>
<polyline points="118.2,122.2 118.1,124.3 117.9,126.3 118.0,128.4 118.1,130.4 117.7,132.5 118.4,134.6 118.5,136.6 118.3,138.7 118.4,140.7 117.8,142.8 118.5,144.9 117.5,146.9 117.9,149.0 117.6,151.1 118.0,153.1 118.2,155.2 118.3,157.2 118.1,159.3 118.0,161.4 117.9,163.4 118.1,165.5 118.1,167.6 118.0,169.6 118.6,171.7 118.4,173.7 118.4,175.8" fill="none" stroke="#2a9a8a" stroke-width="0.77" stroke-opacity="0.42659165875989385"/>
<polyline points="172.0,62.1 171.8,64.1 172.3,66.2 171.8,68.2 171.9,70.2 172.3,72.3 172.4,74.3 172.7,76.3 172.5,78.4 172.8,80.4 172.8,82.4 172.6,84.5 172.6,86.5 172.0,88.6 172.2,90.6 172.0,92.6 172.9,94.7 172.7,96.7 172.7,98.7 172.3,100.8 172.5,102.8 172.3,104.8 172.8,106.9 173.2,108.9 172.5,110.9 172.3,113.0 172.4,115.0 172.6,117.1 173.2,119.1 173.1,121.1 172.7,123.2 172.4,125.2 172.4,127.2 172.4,129.3 173.1,131.3 172.8,133.3 173.3,135.4 173.2,137.4 173.1,139.4 172.8,141.5 173.1,143.5 172.4,145.6 172.4,147.6 172.9,149.6 172.8,151.7 172.5,153.7 172.6,155.7 172.4,157.8 173.3,159.8 173.1,161.8 173.3,163.9 173.3,165.9 172.9,167.9" fill="none" stroke="#d428c4" stroke-width="0.77" stroke-opacity="0.36507904052525986"/>
<polyline points="127.8,38.4 128.1,40.4 127.8,42.5 128.2,44.5 128.3,46.5 127.6,48.5 127.5,50.6 127.7,52.6 128.1,54.6 127.9,56.6 127.6,58.7 128.4,60.7 128.4,62.7 128.1,64.7 127.7,66.8 128.5,68.8 128.2,70.8 127.8,72.8 128.0,74.9 128.4,76.9 128.6,78.9 128.3,80.9 128.4,83.0 128.0,85.0 128.1,87.0 128.8,89.0 128.3,91.1 128.0,93.1 128.5,95.1 128.1,97.1 128.2,99.2 128.5,101.2 128.6,103.2 128.7,105.2 128.8,107.3 128.5,109.3 128.2,111.3 128.9,113.3 128.2,115.3 128.7,117.4 128.6,119.4 128.9,121.4 129.0,123.4 128.5,125.5 129.0,127.5 129.0,129.5 128.8,131.5 128.5,133.6 129.3,135.6 129.0,137.6 128.5,139.6 128.7,141.7 129.0,143.7" fill="none" stroke="#2a9a8a" stroke-width="0.59" stroke-opacity="0.4215122132587457"/>
<polyline points="158.1,39.1 157.3,41.1 157.5,43.1 157.9,45.1 157.9,47.1 157.7,49.2 157.8,51.2 157.1,53.2 157.1,55.2 158.0,57.2 157.8,59.2 157.1,61.2 157.1,63.2 157.3,65.2 157.9,67.2 157.2,69.2 157.7,71.2 157.9,73.2 157.6,75.2 157.9,77.2 157.2,79.2 157.1,81.2 157.0,83.2 157.7,85.2 157.1,87.2 157.9,89.2 157.6,91.3 157.1,93.3 157.7,95.3 157.0,97.3 157.3,99.3 156.9,101.3 157.6,103.3 157.6,105.3 157.6,107.3 156.7,109.3 157.5,111.3 157.2,113.3 157.4,115.3 157.1,117.3 157.2,119.3 157.1,121.3 157.3,123.3 156.6,125.3 156.5,127.3 157.0,129.3 156.7,131.3 156.8,133.4 156.3,135.4 157.1,137.4 156.8,139.4" fill="none" stroke="#4e2cf2" stroke-width="0.77" stroke-opacity="0.39464638616813863"/>
<polyline points="163.7,99.0 164.4,101.0 164.2,103.1 163.7,105.1 163.3,107.1 163.7,109.1 163.1,111.2 163.2,113.2 162.7,115.2 163.5,117.2 162.9,119.2 162.6,121.3 162.2,123.3 162.7,125.3 162.7,127.3 162.6,129.3 161.7,131.4 161.8,133.4 161.6,135.4 162.0,137.4 161.3,139.4 161.6,141.5 161.9,143.5 161.7,145.5 160.8,147.5 160.8,149.5 160.8,151.6 161.3,153.6 161.1,155.6 161.0,157.6 160.8,159.6 160.7,161.7 160.9,163.7 160.8,165.7 161.0,167.7 160.8,169.7 160.8,171.8 160.8,173.8 160.3,175.8" fill="none" stroke="#4e2cf2" stroke-width="0.94" stroke-opacity="0.40203277774608115"/>
<polyline points="82.3,105.4 82.0,107.4 81.2,109.5 81.8,111.6 81.8,113.6 81.3,115.7 81.6,117.8 80.8,119.9 81.5,121.9 80.8,124.0 81.0,126.1 80.4,128.1 80.4,130.2 80.3,132.3 80.2,134.4 79.8,136.4 80.0,138.5 80.5,140.6 80.0,142.6 80.2,144.7 79.9,146.8 79.9,148.9 79.9,150.9 79.6,153.0 79.0,155.1 78.9,157.2 78.9,159.2 78.4,161.3 78.5,163.4 79.1,165.4 79.0,167.5 78.3,169.6 78.6,171.7 78.5,173.7 78.1,175.8" fill="none" stroke="#7c24cc" stroke-width="0.59" stroke-opacity="0.23516004301389126"/>
<polyline points="69.7,57.9 69.4,60.0 68.9,62.1 68.3,64.2 68.8,66.3 68.1,68.4 68.2,70.5 67.7,72.6 67.7,74.7 67.9,76.8 66.9,78.9 67.1,81.0 67.1,83.2 67.0,85.3 67.3,87.4 66.7,89.5 67.1,91.6 66.8,93.7 67.1,95.8 66.1,97.9 66.2,100.0 66.2,102.1 66.3,104.2" fill="none" stroke="#4e2cf2" stroke-width="0.77" stroke-opacity="0.3264836781137192"/>
<polyline points="140.5,93.0 139.5,95.2 139.8,97.3 140.2,99.4 140.4,101.6 139.6,103.7 139.8,105.9 140.0,108.0 140.0,110.1 140.1,112.3 140.0,114.4 139.5,116.6 139.5,118.7 139.4,120.9 140.1,123.0 139.8,125.1 139.9,127.3 140.7,129.4 140.5,131.6 140.6,133.7 140.7,135.9 140.8,138.0 141.0,140.1 140.7,142.3 141.0,144.4" fill="none" stroke="#4e2cf2" stroke-width="0.77" stroke-opacity="0.459639322421043"/>
<polyline points="177.3,105.7 177.3,107.8 177.3,109.8 177.7,111.9 177.5,114.0 177.6,116.0 178.0,118.1 178.5,120.2 178.3,122.2 177.9,124.3 178.4,126.3 177.9,128.4 177.8,130.5 178.1,132.5 178.2,134.6 178.6,136.6 178.4,138.7 178.7,140.8 178.1,142.8 179.0,144.9 178.4,146.9 178.9,149.0 178.2,151.1 179.0,153.1 178.4,155.2 179.1,157.3 179.1,159.3 179.0,161.4 178.6,163.4 178.4,165.5 178.6,167.6 179.3,169.6 178.6,171.7 179.2,173.7 179.0,175.8" fill="none" stroke="#d428c4" stroke-width="0.59" stroke-opacity="0.302678773050471"/>
<polyline points="125.5,139.5 125.4,141.5 124.7,143.5 124.5,145.6 124.2,147.6 125.0,149.6 124.2,151.6 124.3,153.6 124.0,155.6 123.5,157.7 123.3,159.7 123.2,161.7 124.0,163.7 123.2,165.7 124.0,167.7 123.3,169.8 123.6,171.8 123.0,173.8 123.3,175.8" fill="none" stroke="#4e2cf2" stroke-width="0.94" stroke-opacity="0.3998430316950976"/>
<polyline points="104.5,35.3 103.9,37.4 104.1,39.5 104.2,41.6 103.8,43.7 104.0,45.8 104.6,47.8 104.1,49.9 104.2,52.0 104.6,54.1 104.0,56.2 104.0,58.3 104.1,60.4 104.2,62.5 104.2,64.6 104.5,66.7 104.4,68.8 104.8,70.8 104.0,72.9 104.6,75.0 104.8,77.1 104.1,79.2 103.9,81.3 104.2,83.4 103.8,85.5 104.1,87.6 104.3,89.7 103.6,91.8 103.6,93.8 103.9,95.9 103.5,98.0 103.5,100.1 103.7,102.2 103.3,104.3 103.2,106.4 103.4,108.5 103.5,110.6 103.9,112.7 103.5,114.8 102.9,116.8 103.3,118.9" fill="none" stroke="#7c24cc" stroke-width="0.94" stroke-opacity="0.2454327361159958"/>
</g>
<path d="M41.6 16.3V179.4M37.4 16.3h4.2M37.4 56.4h4.2M37.4 95.7h4.2M37.4 135.2h4.2M37.4 173.8h4.2" stroke="#757575" stroke-width="1" fill="none"/>
<text x="34.6" y="20.799999999999997" font-size="11.6" text-anchor="end" fill="#000" textLength="6.25" lengthAdjust="spacingAndGlyphs">0</text>
<text x="34.6" y="60.8" font-size="11.6" text-anchor="end" fill="#000" textLength="18.75" lengthAdjust="spacingAndGlyphs">100</text>
<text x="34.6" y="100.10000000000001" font-size="11.6" text-anchor="end" fill="#000" textLength="18.75" lengthAdjust="spacingAndGlyphs">200</text>
<text x="34.6" y="139.6" font-size="11.6" text-anchor="end" fill="#000" textLength="18.75" lengthAdjust="spacingAndGlyphs">250</text>
<text x="34.6" y="178.20000000000002" font-size="11.6" text-anchor="end" fill="#000" textLength="18.75" lengthAdjust="spacingAndGlyphs">400</text>
<path d="M41.1 178.9H198.2M49.4 178.9v3.8M125.6 178.9v3.8M197.8 178.9v3.8" stroke="#757575" stroke-width="1" fill="none"/>
<text x="49.9" y="192.6" font-size="11.6" text-anchor="middle" fill="#000" textLength="13.6" lengthAdjust="spacingAndGlyphs">80</text>
<text x="125.9" y="192.6" font-size="11.6" text-anchor="middle" fill="#000" textLength="13.6" lengthAdjust="spacingAndGlyphs">40</text>
<text x="197.8" y="192.6" font-size="11.6" text-anchor="middle" fill="#000" textLength="6.8" lengthAdjust="spacingAndGlyphs">0</text>
<text x="12.2" y="96" font-size="13.3" text-anchor="middle" fill="#000" font-weight="bold" textLength="71" lengthAdjust="spacingAndGlyphs" transform="rotate(-90 12.2 96)" stroke="#000" stroke-width="0.3">Time (s)</text>
<text x="126.2" y="215.8" font-size="14.8" text-anchor="middle" fill="#000" font-weight="bold" textLength="116.5" lengthAdjust="spacingAndGlyphs" stroke="#000" stroke-width="0.35">Distance (um)</text>
<rect x="259" y="14.5" width="120.5" height="159.7" fill="#020108"/>
<rect x="259" y="14.5" width="120.5" height="159.7" filter="url(#nzB)"/>
<rect x="259" y="14.5" width="120.5" height="159.7" filter="url(#dotB)"/>
<rect x="364" y="14.5" width="15.5" height="159.7" fill="#000" fill-opacity="0.85"/>
<g filter="url(#spk)">
<polyline points="259.8,20.5 260.6,22.8 261.1,25.1 261.8,27.4 262.7,29.7 263.0,31.7 263.0,33.7 262.9,35.8 262.9,37.8 263.2,39.8 263.3,41.8 263.4,43.8 263.3,45.9 263.1,47.9 263.0,49.9 263.5,51.9 263.3,53.9 263.6,56.0 263.2,58.0 263.7,60.0 263.4,62.0 263.6,64.0 263.6,66.0 263.4,68.0 263.1,70.0 263.6,72.0 263.3,74.0 263.5,76.0 263.1,78.0 263.0,80.0 263.4,82.0 263.1,84.0 262.9,86.0 263.0,88.0 263.1,90.0 262.7,92.0 263.0,94.0 262.9,96.0 262.9,98.0 262.7,100.0 263.1,102.1 263.3,104.1 263.4,106.2 263.1,108.3 263.4,110.4 263.3,112.4 263.6,114.5 263.3,116.6 263.9,118.6 264.0,120.7 263.8,122.8 263.9,124.8 264.0,126.9 264.1,129.0 263.9,131.1 264.5,133.1 264.2,135.2 264.2,137.3 264.2,139.3 264.4,141.4 264.8,143.5 264.5,145.6 264.6,147.6 265.0,149.7 265.3,151.7 265.8,153.6 266.7,155.6 267.3,157.6 267.9,159.6 268.6,161.5 268.8,163.5 269.8,165.5 270.3,167.4 270.5,169.4 270.9,171.7 271.5,174.0" fill="none" stroke="#22d8d8" stroke-width="1.02" stroke-opacity="0.85"/>
<polyline points="260.3,15.0 260.3,17.0 260.2,19.1 260.1,21.1 260.2,23.2 260.1,25.2 260.4,27.3 260.5,29.3 260.1,31.4 260.3,33.4 260.4,35.5 260.1,37.5 260.5,39.5 260.6,41.6 260.2,43.6 260.3,45.7 260.5,47.7 260.3,49.8 260.2,51.8 260.6,53.9 260.5,55.9 260.2,58.0 260.1,60.0 260.2,62.0 260.3,64.0 260.7,66.0 260.6,68.0 260.7,70.0 260.6,72.0 260.7,74.0 260.2,76.0 260.5,78.0 260.8,80.0 260.8,82.0 260.4,84.0 260.6,86.0 260.7,88.0 260.6,90.0 260.7,92.0 260.5,94.0 260.7,96.0 260.8,98.0 260.5,100.0 260.6,102.0 261.0,104.0 260.9,106.0 260.9,108.0 260.7,110.0 260.8,112.0 260.8,114.0 260.8,116.0 260.2,118.0 260.6,120.0 260.3,122.0 260.5,124.0 260.2,126.0 260.4,128.0 260.6,130.0 260.5,132.0 260.3,134.0 260.5,136.0 260.6,138.0 261.0,140.0 260.6,142.0 260.7,144.0 261.0,146.0 260.8,148.0 261.1,150.0 261.4,152.0 261.2,154.0 261.2,156.0 261.4,158.0 261.5,160.0 261.3,162.0 261.4,164.0 261.5,166.0 261.6,168.0 261.8,170.0 261.8,172.0 262.0,174.0" fill="none" stroke="#3438ff" stroke-width="1.36" stroke-opacity="0.95"/>
<polyline points="262.1,30.0 262.0,32.0 262.3,34.0 262.5,36.0 262.3,38.0 262.3,40.0 262.3,42.0 262.1,44.0 262.4,46.0 262.2,48.0 262.2,50.0 262.3,52.0 262.2,54.0 262.1,56.0 262.0,58.0 262.0,60.0 262.2,62.0 262.1,64.0 262.2,66.0 261.8,68.0 262.0,70.0 262.3,72.0 262.0,74.0 262.1,76.0 262.1,78.0 262.0,80.0 262.4,82.0 261.9,84.0 262.2,86.0 261.8,88.0 261.8,90.0 262.3,92.0 262.0,94.0 261.8,96.0 261.9,98.0 262.0,100.0 262.2,102.0 261.9,104.0 262.1,106.0 262.6,108.0 262.5,110.0 262.2,112.0 262.4,114.0 262.5,116.0 262.8,118.0 262.8,120.0 263.0,122.0 263.1,124.0 263.0,126.0 263.2,128.0 263.3,130.0 263.4,132.0 263.3,134.0 263.5,136.0 263.6,138.0 263.7,140.0 263.4,142.0 264.0,144.0 263.6,146.0 264.2,148.0 264.3,150.0 264.4,152.0 264.8,154.0 264.7,156.0 264.8,158.0 265.1,160.0 265.3,162.0 265.3,164.0 265.3,166.0 265.5,168.0 265.7,170.0 266.0,172.0 266.0,174.0" fill="none" stroke="#2a28f4" stroke-width="1.27" stroke-opacity="0.9"/>
<polyline points="276.6,14.6 275.9,16.7 275.2,18.8 274.3,20.9 273.5,22.9 273.0,25.0 272.3,27.1 271.3,29.1 270.5,31.0 269.6,33.0 268.9,35.0 268.1,36.9 267.5,38.9 267.5,41.0 267.3,43.1 267.7,45.2 267.4,47.3 267.7,49.5 267.7,51.6 267.7,53.7 267.4,55.8 267.5,57.9 267.7,60.0 267.3,62.1 267.3,64.1 267.5,66.2 267.5,68.2 267.7,70.3 267.6,72.4 267.5,74.4 267.7,76.5 267.5,78.5 267.5,80.6 267.6,82.6 267.4,84.7 267.4,86.8 267.5,88.8 267.4,90.9 267.7,92.9 267.5,95.0" fill="none" stroke="#d428c4" stroke-width="1.61" stroke-opacity="1.0"/>
<polyline points="267.6,60.0 267.5,62.0 267.3,64.0 267.5,66.0 267.5,68.0 267.6,70.0 267.6,72.0 267.8,74.0 267.9,76.0 267.6,78.0 267.6,80.0 267.7,82.0 268.0,84.0 267.6,86.0 267.7,88.0 267.9,90.0 267.5,92.0 267.6,94.0 268.1,96.0 268.0,98.0 267.8,100.0 267.6,102.0 268.1,104.0 268.0,106.0 268.1,108.0 268.2,110.0 268.2,112.0 267.9,114.0 267.8,116.0 267.9,118.0 268.0,120.0 268.0,122.0 267.9,124.0 267.9,126.0 268.2,128.0 268.2,130.0 268.4,132.1 269.2,134.1 269.4,136.2 269.5,138.2 270.1,140.3 270.7,142.3 270.9,144.4 271.5,146.4 271.5,148.5 272.1,150.6 272.8,152.6 273.1,154.7 273.6,156.7 273.7,158.8 274.3,160.8 274.7,162.9 274.8,165.1 275.3,167.3 275.5,169.6 276.0,171.8 276.0,174.0" fill="none" stroke="#3438ff" stroke-width="1.36" stroke-opacity="0.95"/>
<polyline points="264.5,45.0 264.5,47.0 264.3,49.1 264.3,51.1 264.7,53.1 264.3,55.2 264.3,57.2 264.4,59.2 264.6,61.2 264.8,63.3 264.7,65.3 264.8,67.3 264.3,69.4 264.3,71.4 264.8,73.4 264.5,75.5 264.8,77.5 264.6,79.5 264.5,81.6 264.5,83.6 264.4,85.6 264.9,87.7 264.8,89.7 264.6,91.7 264.7,93.8 264.7,95.8 264.5,97.8 265.0,99.8 264.8,101.9 265.0,103.9 264.7,105.9 264.9,108.0 264.8,110.0" fill="none" stroke="#d428c4" stroke-width="0.85" stroke-opacity="0.7"/>
<polyline points="266.6,106.6 267.3,108.8 268.6,111.0 269.3,113.2 269.8,115.3 270.9,117.5 271.6,119.7 271.5,121.9 271.9,124.1 272.3,126.3 272.3,128.5 272.8,130.7 272.5,132.9 272.7,135.0 273.0,137.2 272.8,139.3 273.0,141.4 273.4,143.6 273.3,145.7 273.6,147.9 273.5,150.0" fill="none" stroke="#22d8d8" stroke-width="0.94" stroke-opacity="0.8"/>
<polyline points="271.7,55.0 271.7,57.0 271.9,59.1 271.7,61.1 272.5,63.2 271.8,65.2 272.1,67.3 271.6,69.3 272.0,71.4 271.9,73.4 271.9,75.5 271.6,77.5 271.6,79.5 272.3,81.6 271.9,83.6 271.7,85.7 271.7,87.7 271.8,89.8 271.7,91.8 271.5,93.9 272.2,95.9 271.8,98.0 272.0,100.0" fill="none" stroke="#7c24cc" stroke-width="0.68" stroke-opacity="0.4"/>
<polyline points="286.3,15.3 286.5,17.4 286.0,19.5 285.9,21.7 286.1,23.8 285.5,25.9 285.6,28.0 285.7,30.2 285.5,32.3 285.0,34.4 285.0,36.5 285.0,38.7 284.7,40.8 284.9,42.9 284.3,45.0 284.7,47.2 284.3,49.3 284.1,51.5 284.1,53.6 283.9,55.7 284.1,57.9 283.8,60.0 284.1,62.0 283.9,64.0 283.7,66.0 283.6,68.0 283.8,70.0 283.5,72.0 283.9,74.0 283.4,76.0 283.6,78.0 283.6,80.0 283.4,82.0 283.7,84.0 283.4,86.0 283.6,88.0 283.5,90.0 283.3,92.0 283.3,94.0 283.1,96.0 283.1,98.0 283.5,100.0 283.1,102.0 283.2,104.0 282.7,106.1 282.9,108.1 282.7,110.1 282.7,112.1 282.4,114.2 282.2,116.2 282.2,118.2 282.1,120.2 281.9,122.3 282.1,124.3 281.8,126.3 281.8,128.5 282.0,130.6 281.9,132.8 281.9,134.9 281.8,137.1 281.4,139.2 281.4,141.4 281.2,143.5 281.5,145.7 281.5,147.8 281.3,150.0" fill="none" stroke="#d428c4" stroke-width="0.85" stroke-opacity="0.6"/>
<polyline points="281.2,130.0 281.3,132.0 281.5,134.0 281.6,136.0 281.4,138.0 281.8,140.0 281.6,142.0 281.8,144.0 281.6,146.0 281.6,148.0 282.1,150.0 282.1,152.0 282.1,154.0 281.8,156.0 281.9,158.0 282.0,160.0 282.1,162.0 282.2,164.0 282.3,166.0 282.1,168.0 282.4,170.0 282.6,172.0 282.6,174.0" fill="none" stroke="#2a28f4" stroke-width="0.94" stroke-opacity="0.6"/>
<polyline points="298.1,100.0 298.7,102.0 298.5,104.0 298.6,106.0 298.2,108.0 298.3,110.0 298.6,112.0 298.2,114.0 297.9,116.0 298.7,118.0 298.7,120.0 298.2,122.0 297.9,124.0 298.8,126.0 298.5,128.0 297.9,130.0 298.1,132.0 298.0,134.0 298.7,136.0 298.1,138.0 298.8,140.0 298.6,142.0 298.0,144.0 298.6,146.0 298.3,148.0 298.4,150.0" fill="none" stroke="#7c24cc" stroke-width="0.59" stroke-opacity="0.3"/>
<polyline points="309.1,100.0 309.2,102.0 308.7,104.0 308.5,106.0 309.4,108.0 308.8,110.0 309.4,112.0 309.1,114.0 309.2,116.0 309.3,118.0 309.1,120.0 308.9,122.0 308.5,124.0 309.2,126.0 308.9,128.0 309.0,130.0 309.4,132.0 308.6,134.0 309.2,136.0 308.5,138.0 309.2,140.0 309.3,142.0 308.7,144.0 309.0,146.0 309.5,148.0 309.0,150.0" fill="none" stroke="#2a9a8a" stroke-width="0.59" stroke-opacity="0.35"/>
<polyline points="313.6,14.6 313.5,16.7 313.3,18.8 313.2,20.9 313.4,23.1 313.4,25.2 313.3,27.3 313.4,29.4 313.3,31.5 313.6,33.6 313.6,35.8 313.3,37.9 313.5,40.0" fill="none" stroke="#7c24cc" stroke-width="0.85" stroke-opacity="0.5"/>
<polyline points="313.3,40.0 313.5,42.0 313.5,44.0 313.9,46.0 313.5,48.0 313.5,50.0 313.9,52.0 313.5,54.0 313.8,56.0 313.7,58.0 314.0,60.0 313.9,62.0 314.0,64.0 313.7,66.0 314.0,68.0 314.0,70.0 314.0,72.0 314.2,74.0 314.2,76.0 313.8,78.0 314.0,80.0 314.0,82.0 314.0,84.1 313.9,86.1 314.1,88.2 314.1,90.2 314.4,92.3 314.3,94.3 314.1,96.4 314.3,98.4 314.4,100.5 314.4,102.5 314.3,104.5 314.3,106.6 314.3,108.6 314.9,110.7 314.8,112.7 314.4,114.8 314.8,116.8 315.0,118.9 314.8,120.9 314.5,123.0 314.8,125.0 314.8,127.0 314.7,129.1 314.9,131.1 314.6,133.2 315.2,135.2 315.0,137.2 315.1,139.3 315.3,141.3 315.1,143.4 314.9,145.4 314.9,147.5 314.9,149.5 314.8,151.5 315.3,153.6 315.4,155.6 315.1,157.7 315.0,159.7 315.3,161.8 315.5,163.8 315.6,165.8 315.1,167.9 315.5,169.9 315.6,172.0 315.4,174.0" fill="none" stroke="#3438ff" stroke-width="1.44" stroke-opacity="0.95"/>
<polyline points="320.8,14.6 320.6,16.7 320.5,18.7 320.9,20.8 320.6,22.9 320.6,24.9 320.7,27.0 320.6,29.0 320.9,31.1 320.5,33.2 320.4,35.2 320.7,37.3 320.8,39.4 320.9,41.4 320.8,43.5 320.9,45.6 321.0,47.6 320.7,49.7 320.7,51.7 320.5,53.8 320.6,55.9 320.7,57.9 320.7,60.0" fill="none" stroke="#7c24cc" stroke-width="0.77" stroke-opacity="0.45"/>
<polyline points="325.1,14.6 325.4,16.7 325.1,18.8 325.3,20.9 325.5,23.1 325.1,25.2 325.1,27.3 325.3,29.4 325.1,31.5 325.4,33.6 325.1,35.8 325.5,37.9 325.5,40.0 325.4,42.0 325.1,44.0 325.0,46.0 325.1,48.0 325.0,50.0 324.9,52.0 324.8,54.0 324.8,56.0 324.8,58.0 324.8,60.0 324.8,62.0 324.3,64.1 324.3,66.2 324.2,68.3 324.2,70.4 323.9,72.5 323.7,74.5 323.6,76.6 323.6,78.7 323.5,80.8 323.7,82.9 323.5,85.0 323.3,87.1 323.2,89.3 323.0,91.4 322.6,93.6 322.5,95.7 322.0,97.9 322.0,100.0" fill="none" stroke="#d428c4" stroke-width="1.53" stroke-opacity="1.0"/>
<polyline points="322.1,100.0 322.0,102.1 321.7,104.2 321.7,106.2 321.8,108.3 321.4,110.4 321.4,112.5 321.1,114.6 321.0,116.7 321.3,118.8 320.6,120.8 320.6,122.9 320.8,125.0 320.6,127.1 320.3,129.2 320.6,131.2 320.3,133.3 320.4,135.4 320.2,137.5 320.2,139.6 320.1,141.7 320.0,143.8 319.7,145.8 319.7,147.9 320.0,150.0 319.8,152.0 319.5,154.0 319.9,156.0 319.5,158.0 319.4,160.0 319.6,162.0 319.4,164.0 319.5,166.0 319.5,168.0 319.3,170.0 319.5,172.0 319.4,174.0" fill="none" stroke="#d428c4" stroke-width="1.44" stroke-opacity="1.0"/>
<polyline points="320.5,60.0 320.7,62.0 320.8,64.0 320.4,66.0 320.6,68.0 320.4,70.0 320.7,72.0 320.9,74.0 320.7,76.0 320.8,78.0 320.9,80.0 320.5,82.0 321.0,84.0 320.8,86.0 320.5,88.0 320.9,90.0 320.6,92.0 320.5,94.0 321.0,96.0 320.7,98.0 320.7,100.0" fill="none" stroke="#2a28f4" stroke-width="0.94" stroke-opacity="0.7"/>
<polyline points="324.2,100.0 323.8,102.0 324.2,104.0 323.8,106.0 324.0,108.0 324.1,110.0 323.9,112.0 324.3,114.0 324.1,116.0 324.2,118.0 324.5,120.0 324.3,122.0 324.6,124.0 324.5,126.0 324.7,128.0 324.5,130.0 324.8,132.0 324.9,134.0 324.6,136.0 325.0,138.0 324.9,140.0 325.2,142.0 325.3,144.0 325.5,146.0 325.1,148.0 325.4,150.0 325.7,152.0 325.9,154.0 325.9,156.0 325.6,158.0 326.0,160.0 325.8,162.0 326.2,164.0 326.4,166.0 326.1,168.0 326.7,170.0 326.6,172.0 326.6,174.0" fill="none" stroke="#2a28f4" stroke-width="0.85" stroke-opacity="0.55"/>
<polyline points="319.3,160.0 319.3,162.0 319.5,164.0 319.7,166.0 319.7,168.0 319.5,170.0 319.6,172.0 319.8,174.0" fill="none" stroke="#22d8d8" stroke-width="1.02" stroke-opacity="0.9"/>
<polyline points="305.4,56.3 307.6,57.9 309.0,59.6 311.0,61.2 312.7,62.9 313.6,65.2 314.0,67.5 314.5,69.8 315.6,72.1 317.1,73.4 318.8,74.7 320.5,76.0 322.3,77.3 322.6,79.5 323.6,81.7 324.4,83.9 326.6,85.2 328.8,86.6 330.6,87.9" fill="none" stroke="#22d8d8" stroke-width="1.10" stroke-opacity="0.95"/>
<polyline points="330.8,87.9 330.3,89.9 330.4,91.9 330.8,93.9 330.7,95.9 330.5,97.9 330.6,99.9 330.4,101.9 330.8,103.9 330.5,105.9 330.8,107.9 330.7,110.0 330.3,112.0 330.5,114.0 330.4,116.0 330.8,118.0 330.7,120.0 330.3,122.0 330.4,124.0 330.5,126.0 330.6,128.0 330.6,130.0 330.5,132.0 330.5,134.0 330.3,136.0 330.6,138.0 330.5,140.0 330.3,142.0 330.6,144.0 330.9,146.0 330.3,148.0 330.4,150.0 330.7,152.0 330.5,154.0 330.5,156.0 330.6,158.0 330.5,160.0 330.6,162.0 330.6,164.0 330.9,166.0 330.9,168.0 330.3,170.0 330.6,172.0 330.6,174.0" fill="none" stroke="#4e2cf2" stroke-width="1.36" stroke-opacity="0.9"/>
<polyline points="331.9,76.0 331.8,78.0 331.6,80.0 331.4,82.0 331.3,84.0 331.0,86.0 331.0,88.0" fill="none" stroke="#2a28f4" stroke-width="0.85" stroke-opacity="0.6"/>
<polyline points="341.6,14.6 341.9,16.7 341.9,18.7 342.0,20.8 341.8,22.9 341.6,24.9 341.9,27.0 341.8,29.0 341.7,31.1 341.8,33.2 341.6,35.2 341.7,37.3 341.6,39.4 341.4,41.4 341.6,43.5 341.6,45.6 342.0,47.6 341.7,49.7 341.6,51.7 341.5,53.8 341.5,55.9 341.6,57.9 341.5,60.0 341.4,62.0 341.9,64.0 341.6,66.0 341.6,68.0 341.6,70.0 341.5,72.0 341.4,74.0 341.3,76.0 341.4,78.0 341.4,80.0 341.6,82.0 341.5,84.0 341.7,86.0 341.3,88.0 341.7,90.0 341.4,92.0 341.1,94.0 341.1,96.0 341.4,98.0 341.6,100.0 341.2,102.0 341.4,104.0 341.2,106.0 341.5,108.0 341.0,110.0 341.2,112.0 341.5,114.0 341.1,116.0 341.1,118.0 340.9,120.0 341.0,122.0 341.1,124.0 341.3,126.0 341.0,128.0 341.1,130.0 341.0,132.0 341.2,134.0 341.4,136.0 341.2,138.0 341.0,140.0 341.3,142.0 341.4,144.0 341.2,146.0 340.9,148.0 341.3,150.0 341.3,152.0 341.0,154.0 340.9,156.0 340.9,158.0 341.1,160.0 341.3,162.0 341.1,164.0 341.3,166.0 340.9,168.0 340.9,170.0 341.2,172.0 341.0,174.0" fill="none" stroke="#4e2cf2" stroke-width="1.36" stroke-opacity="0.9"/>
<polyline points="350.7,14.6 350.5,16.7 350.7,18.7 350.5,20.8 350.3,22.8 350.5,24.9 350.3,26.9 350.7,29.0 350.5,31.0 350.6,33.1 350.7,35.1 350.5,37.2 350.6,39.2 350.3,41.3 350.9,43.3 350.6,45.4 350.9,47.4 350.3,49.5 350.7,51.5 350.7,53.6 350.5,55.6 350.4,57.7 350.4,59.7 350.4,61.8 350.8,63.8 350.4,65.9 350.8,67.9 350.6,70.0" fill="none" stroke="#7c24cc" stroke-width="0.85" stroke-opacity="0.5"/>
<polyline points="348.3,95.0 348.3,97.1 348.4,99.1 348.3,101.2 348.4,103.2 348.4,105.3 348.2,107.4 348.4,109.4 348.2,111.5 348.4,113.6 348.5,115.6 348.5,117.7 348.2,119.8 348.5,121.8 348.6,123.9 348.3,125.9 348.3,128.0" fill="none" stroke="#2a28f4" stroke-width="0.77" stroke-opacity="0.5"/>
<polyline points="354.9,14.6 355.0,16.6 355.3,18.7 354.8,20.7 354.7,22.8 355.0,24.8 355.1,26.8 355.2,28.9 354.9,30.9 355.3,33.0 354.8,35.0 355.2,37.0 354.8,39.1 354.7,41.1 354.8,43.2 354.7,45.2 355.0,47.2 355.0,49.3 354.8,51.3 355.3,53.4 354.9,55.4 354.8,57.4 354.8,59.5 355.1,61.5 355.3,63.6 355.0,65.6" fill="none" stroke="#2a28f4" stroke-width="0.94" stroke-opacity="0.6"/>
<polyline points="354.8,65.6 355.5,67.5 356.8,69.4 357.2,71.3 358.5,73.2 359.0,75.1 359.9,77.0 360.5,78.9 360.9,80.9 360.9,82.9 360.9,84.9 361.4,87.0 361.1,89.0 361.6,91.0 361.3,93.0 361.7,95.0" fill="none" stroke="#22d8d8" stroke-width="0.94" stroke-opacity="0.85"/>
<polyline points="359.5,54.0 359.3,56.0 359.8,58.0 359.0,60.0 359.5,62.0 359.3,64.0 359.8,66.0 359.8,68.0 359.4,70.0" fill="none" stroke="#2a28f4" stroke-width="0.68" stroke-opacity="0.45"/>
<polyline points="354.0,95.0 353.7,97.1 353.6,99.1 353.6,101.2 353.6,103.2 353.4,105.3 353.3,107.4 353.6,109.4 353.4,111.5 353.2,113.6 353.5,115.6 353.0,117.7 353.1,119.8 352.8,121.8 353.2,123.9 353.1,125.9 352.7,128.0 353.0,130.0 353.0,132.0 352.7,134.0 352.8,136.0 352.9,138.0 353.2,140.0 352.8,142.0 353.1,144.0 353.1,146.0 353.0,148.0 353.1,150.0 353.3,152.0 353.0,154.0 353.4,156.0 353.1,158.0 353.4,160.0 353.5,162.0 353.1,164.0 353.5,166.0 353.6,168.0 353.2,170.0 353.1,172.0 353.4,174.0" fill="none" stroke="#d428c4" stroke-width="1.02" stroke-opacity="0.75"/>
<polyline points="360.4,95.0 360.9,97.1 360.4,99.1 360.9,101.2 360.5,103.2 360.9,105.3 360.5,107.4 360.6,109.4 360.9,111.5 360.6,113.5 360.7,115.6 361.1,117.6 361.0,119.7 361.1,121.8 361.2,123.8 360.7,125.9 360.8,127.9 361.2,130.0 361.1,132.0 360.8,134.0 361.1,136.0 361.0,138.0 361.1,140.0 361.0,142.0 361.0,144.0 361.6,146.0 361.2,148.0 361.6,150.0 361.2,152.0 361.4,154.0 361.2,156.0 361.4,158.0 361.3,160.0 361.7,162.0 361.4,164.0 361.8,166.0 361.7,168.0 361.7,170.0" fill="none" stroke="#4e2cf2" stroke-width="1.36" stroke-opacity="0.95"/>
<polyline points="361.5,166.0 360.9,168.3 360.2,170.7 359.4,173.0" fill="none" stroke="#d428c4" stroke-width="1.10" stroke-opacity="0.95"/>
<polyline points="283.3,44.0 285.3,44.5 287.2,45.5 289.2,47.6 291.1,48.7 293.1,49.7 294.9,50.1 296.7,51.0 298.5,52.1 300.4,52.8 302.2,53.8 304.0,55.3 305.8,56.2 307.6,57.4 310.2,58.5 312.8,60.0" fill="none" stroke="#35d060" stroke-width="1.2" stroke-opacity="0.9" stroke-dasharray="2.6 1.2 1.2 1.6 3.4 1 1 1.4"/>
<polyline points="287.9,25.2 289.5,27.3 291.2,28.6 292.8,29.8 294.4,31.1 296.1,32.6 297.7,34.3 299.4,35.4 301.0,36.6 302.1,38.1 303.3,39.8 304.4,41.8 305.5,44.4 306.6,45.5 307.8,47.4 308.9,49.4" fill="none" stroke="#35d060" stroke-width="0.7" stroke-opacity="0.4" stroke-dasharray="2.6 1.2 1.2 1.6 3.4 1 1 1.4"/>
<polyline points="281.3,102.5 283.3,102.5 285.2,103.9 287.2,103.1 289.2,104.2 291.1,105.0 293.1,104.5 295.1,105.3 297.1,105.4 299.0,105.6 301.0,105.9 303.0,106.2 304.9,107.4 306.9,107.7 308.9,108.3 310.8,107.6 312.8,108.7 314.8,108.9 316.8,109.8 318.8,110.3 320.8,110.5 322.8,111.9 324.8,111.3 326.8,112.8 328.8,113.5 330.8,113.6 332.8,114.3 334.8,115.3 336.8,115.0 338.8,116.0 340.8,116.7 342.8,116.9 344.4,118.6 346.0,119.5 347.6,120.9 349.1,122.3 350.7,123.7 352.3,124.6 353.9,126.3 355.5,127.4 357.1,128.2 358.8,129.9 360.4,130.7 362.0,132.6 363.6,133.3 365.2,134.8 366.8,135.8 368.5,137.0 370.1,137.9 371.7,139.4" fill="none" stroke="#35d060" stroke-width="0.9" stroke-opacity="0.6" stroke-dasharray="2.6 1.2 1.2 1.6 3.4 1 1 1.4"/>
<polyline points="309.5,148.0 310.1,150.9 310.6,152.4 311.1,154.3 311.7,156.3 312.2,158.6 312.8,160.2" fill="none" stroke="#35d060" stroke-width="0.9" stroke-opacity="0.6" stroke-dasharray="2.6 1.2 1.2 1.6 3.4 1 1 1.4"/>
<polyline points="262.0,134.7 262.6,136.7 263.1,139.7 263.7,141.4 264.3,143.7 264.9,146.1 265.4,148.3 266.0,150.4 266.7,151.5 267.3,153.9 268.0,156.4 268.7,158.4 269.3,159.5 270.0,161.6 270.7,163.7 271.3,165.5 272.0,168.0" fill="none" stroke="#35d060" stroke-width="0.8" stroke-opacity="0.5" stroke-dasharray="2.6 1.2 1.2 1.6 3.4 1 1 1.4"/>
<polyline points="307.2,62.9 307.7,65.0 307.4,67.2 307.7,69.3 307.8,71.4 307.6,73.5 306.8,75.7 307.6,77.8 307.2,79.9 306.8,82.0 306.7,84.2 307.5,86.3 307.0,88.4 307.0,90.5 307.3,92.6 308.1,94.8 307.7,96.9 308.1,99.0 307.6,101.1 308.1,103.3 308.2,105.4" fill="none" stroke="#2a28f4" stroke-width="0.77" stroke-opacity="0.4715234316089427"/>
<polyline points="268.1,86.4 267.9,88.4 268.2,90.5 267.8,92.5 267.5,94.5 268.3,96.6 267.7,98.6 267.3,100.6 267.0,102.7 267.5,104.7 267.3,106.7 266.7,108.8 267.1,110.8 267.2,112.9 266.9,114.9 266.5,116.9 266.7,119.0 266.7,121.0 266.7,123.0 266.0,125.1 266.6,127.1 266.6,129.1 266.4,131.2 266.4,133.2 265.8,135.2 266.3,137.3 265.5,139.3 265.4,141.4 265.7,143.4 266.0,145.4 265.1,147.5 265.1,149.5 264.9,151.5 265.2,153.6 264.8,155.6 264.8,157.6 265.2,159.7 265.0,161.7 265.3,163.7 264.7,165.8 264.8,167.8 264.1,169.9 264.5,171.9" fill="none" stroke="#4e2cf2" stroke-width="0.94" stroke-opacity="0.33832427057626846"/>
<polyline points="277.7,21.2 277.1,23.3 277.5,25.3 277.6,27.4 278.2,29.5 277.8,31.6 278.5,33.7 278.2,35.8 277.9,37.9 278.7,40.0 278.1,42.1 278.9,44.2 278.3,46.3 278.1,48.4 278.8,50.5 278.1,52.6 278.1,54.7 278.0,56.8 278.3,58.9 277.6,61.0 278.1,63.1" fill="none" stroke="#2a28f4" stroke-width="0.94" stroke-opacity="0.3274261565587415"/>
<polyline points="336.3,27.7 336.2,29.7 336.8,31.7 336.0,33.7 336.6,35.7 336.3,37.7 336.5,39.7 336.6,41.7 336.8,43.7 336.3,45.8 336.4,47.8 336.3,49.8 337.1,51.8 336.3,53.8 336.3,55.8 336.7,57.8 336.7,59.8 337.0,61.8 336.1,63.8 336.2,65.8 336.1,67.8 336.5,69.8 336.4,71.8 336.3,73.9 336.7,75.9 336.5,77.9 336.6,79.9 336.7,81.9 336.2,83.9" fill="none" stroke="#4e2cf2" stroke-width="0.59" stroke-opacity="0.4363224666914746"/>
<polyline points="353.2,65.9 353.8,68.0 353.1,70.0 352.7,72.0 353.4,74.0 352.5,76.1 352.3,78.1 352.5,80.1 352.4,82.1 353.0,84.2 352.8,86.2 352.2,88.2 352.2,90.2 352.4,92.3 352.3,94.3 352.0,96.3 351.7,98.3 351.2,100.4 351.2,102.4 351.4,104.4 351.2,106.4 351.3,108.5 351.2,110.5 351.2,112.5 350.2,114.5 350.0,116.6 350.6,118.6 350.2,120.6 349.6,122.6 350.0,124.7 349.7,126.7" fill="none" stroke="#2a28f4" stroke-width="0.77" stroke-opacity="0.23534101971110372"/>
<polyline points="298.6,78.3 298.5,80.3 298.6,82.3 298.8,84.3 298.9,86.3 298.3,88.3 298.9,90.3 298.8,92.3 298.6,94.3 298.6,96.3 298.6,98.3 297.6,100.4 297.9,102.4 297.9,104.4 297.7,106.4 297.5,108.4 297.2,110.4" fill="none" stroke="#2a28f4" stroke-width="0.94" stroke-opacity="0.22108489449281307"/>
<polyline points="338.0,40.1 338.8,42.2 338.6,44.2 338.0,46.3 338.2,48.3 338.7,50.4 337.9,52.4 338.1,54.5 338.7,56.6 338.6,58.6 337.9,60.7 338.4,62.7 338.0,64.8 338.3,66.8 338.4,68.9 337.7,70.9 337.8,73.0 337.8,75.0 337.8,77.1 337.5,79.1 337.6,81.2 337.9,83.2 337.9,85.3 337.5,87.3 338.0,89.4 338.3,91.4 338.0,93.5 337.7,95.5 338.0,97.6 337.6,99.6 337.3,101.7 337.5,103.7 337.0,105.8 337.6,107.8 337.0,109.9 337.2,112.0 337.7,114.0 337.4,116.1 337.4,118.1 337.2,120.2 337.1,122.2 337.1,124.3 337.3,126.3 336.5,128.4 337.0,130.4 336.4,132.5 336.3,134.5 336.8,136.6 336.5,138.6 336.7,140.7 336.7,142.7 336.3,144.8 336.2,146.8" fill="none" stroke="#7c24cc" stroke-width="0.94" stroke-opacity="0.47694409016437944"/>
<polyline points="311.0,88.8 310.7,90.9 311.1,92.9 311.2,95.0 310.7,97.1 310.3,99.1 310.2,101.2 310.2,103.3 310.6,105.3 309.8,107.4 309.9,109.4 309.9,111.5 310.2,113.6 310.4,115.6 309.3,117.7 309.3,119.8 310.0,121.8 309.9,123.9 308.9,125.9 309.0,128.0 309.2,130.1 308.9,132.1 309.0,134.2 309.0,136.3 308.7,138.3 308.5,140.4 308.5,142.4 308.5,144.5 308.4,146.6 308.9,148.6 308.9,150.7 308.5,152.8 309.0,154.8 308.9,156.9 308.4,158.9 308.5,161.0 308.2,163.1 308.9,165.1 308.4,167.2" fill="none" stroke="#7c24cc" stroke-width="0.94" stroke-opacity="0.4341713573497309"/>
<polyline points="331.9,33.4 331.4,35.4 331.4,37.4 331.9,39.5 331.6,41.5 331.9,43.6 331.4,45.6 331.9,47.7 331.9,49.7 331.2,51.8 331.7,53.8 331.2,55.9 331.7,57.9 331.8,60.0 331.8,62.0 331.2,64.0 331.0,66.1 331.5,68.1 331.4,70.2 331.0,72.2 331.0,74.3 331.4,76.3 330.9,78.4 331.4,80.4 330.9,82.5 330.9,84.5 331.1,86.5 331.1,88.6 331.3,90.6 330.6,92.7 331.4,94.7 330.9,96.8 331.0,98.8 331.3,100.9 331.4,102.9 331.4,105.0 331.7,107.0 331.0,109.1 331.1,111.1 331.5,113.1 331.1,115.2 331.1,117.2 331.2,119.3 331.7,121.3 331.8,123.4 331.7,125.4 332.0,127.5 331.9,129.5 331.4,131.6 331.4,133.6 331.9,135.7 331.2,137.7 331.8,139.7 331.3,141.8 331.3,143.8 331.8,145.9 331.8,147.9" fill="none" stroke="#d428c4" stroke-width="0.94" stroke-opacity="0.4113029945625859"/>
<polyline points="347.0,111.1 347.7,113.2 347.6,115.3 347.1,117.5 346.7,119.6 346.6,121.7 346.9,123.8 346.8,125.9 346.6,128.0 346.8,130.1 346.6,132.2 346.8,134.3 346.0,136.4 345.9,138.5 346.1,140.6 346.1,142.7 345.9,144.8 346.4,146.9 346.0,149.0 346.1,151.1 346.3,153.2 346.5,155.3 346.6,157.4 346.2,159.5 346.3,161.6 346.8,163.7 346.8,165.8 346.5,167.9 346.1,170.0 346.4,172.1 346.5,174.2" fill="none" stroke="#4e2cf2" stroke-width="0.59" stroke-opacity="0.2652871213191426"/>
<polyline points="311.9,110.0 311.5,112.0 311.2,114.0 312.1,116.0 312.0,118.0 311.2,120.0 311.5,122.0 311.7,124.0 311.3,126.0 311.1,128.0 311.7,130.0 311.7,132.0 311.3,134.0 311.0,136.1 311.2,138.1 310.9,140.1 311.8,142.1 310.8,144.1 311.0,146.1 311.4,148.1 310.8,150.1 310.7,152.1 310.6,154.1 310.7,156.1 311.0,158.1 311.3,160.1 310.5,162.2 310.5,164.2 311.1,166.2 310.7,168.2 310.5,170.2 310.3,172.2 310.6,174.2" fill="none" stroke="#2a28f4" stroke-width="0.77" stroke-opacity="0.2507904553557194"/>
<polyline points="350.1,61.9 350.8,64.0 349.9,66.0 350.0,68.0 350.4,70.1 350.5,72.1 350.4,74.1 349.9,76.2 350.3,78.2 349.9,80.3 349.5,82.3 349.7,84.3 349.9,86.4 349.7,88.4 348.9,90.4 348.8,92.5 349.4,94.5 348.3,96.6 348.9,98.6 348.2,100.6 347.9,102.7 347.8,104.7 347.8,106.7 348.1,108.8 347.5,110.8" fill="none" stroke="#2a28f4" stroke-width="0.77" stroke-opacity="0.4438235590619527"/>
<polyline points="293.3,70.7 294.0,72.8 293.3,74.8 293.1,76.9 293.6,78.9 293.1,81.0 292.9,83.0 293.0,85.1 293.3,87.1 293.3,89.2 292.9,91.2 292.2,93.3 292.9,95.3 292.7,97.4 292.9,99.4 293.0,101.5 292.3,103.5 292.8,105.6 292.7,107.6 292.1,109.7 292.2,111.7 292.1,113.8 292.1,115.8 292.1,117.9 292.1,119.9" fill="none" stroke="#2a28f4" stroke-width="0.77" stroke-opacity="0.39626284658736244"/>
<polyline points="270.2,116.2 270.4,118.2 271.1,120.2 270.7,122.3 271.0,124.3 271.4,126.3 271.3,128.3 270.9,130.3 271.6,132.3 271.5,134.4 271.6,136.4 271.3,138.4 271.3,140.4 271.3,142.4 270.7,144.4 271.1,146.5 270.9,148.5" fill="none" stroke="#4e2cf2" stroke-width="0.77" stroke-opacity="0.41864541514053377"/>
</g>
<path d="M254 15.2V179.1M249.6 15.2h4.4M249.6 55.6h4.4M249.6 94.3h4.4M249.6 132.9h4.4M249.6 172.8h4.4" stroke="#757575" stroke-width="1" fill="none"/>
<text x="247.6" y="20.799999999999997" font-size="11.6" text-anchor="end" fill="#000" textLength="6.5" lengthAdjust="spacingAndGlyphs">0</text>
<text x="247.6" y="60.0" font-size="11.6" text-anchor="end" fill="#000" textLength="19.5" lengthAdjust="spacingAndGlyphs">125</text>
<text x="247.6" y="98.80000000000001" font-size="11.6" text-anchor="end" fill="#000" textLength="19.5" lengthAdjust="spacingAndGlyphs">250</text>
<text x="247.6" y="137.3" font-size="11.6" text-anchor="end" fill="#000" textLength="19.5" lengthAdjust="spacingAndGlyphs">375</text>
<text x="247.6" y="178.1" font-size="11.6" text-anchor="end" fill="#000" textLength="19.5" lengthAdjust="spacingAndGlyphs">500</text>
<path d="M253.5 178.6H380.8M259.2 178.6v3.8M322.3 178.6v3.8M378.4 178.6v3.8" stroke="#757575" stroke-width="1" fill="none"/>
<text x="259.2" y="191.8" font-size="11.6" text-anchor="middle" fill="#000" textLength="20.1" lengthAdjust="spacingAndGlyphs">100</text>
<text x="322.3" y="191.8" font-size="11.6" text-anchor="middle" fill="#000" textLength="13.4" lengthAdjust="spacingAndGlyphs">50</text>
<text x="378.4" y="191.8" font-size="11.6" text-anchor="middle" fill="#000" textLength="6.7" lengthAdjust="spacingAndGlyphs">0</text>
<text x="223" y="96" font-size="13.3" text-anchor="middle" fill="#000" font-weight="bold" textLength="71" lengthAdjust="spacingAndGlyphs" transform="rotate(-90 223 96)" stroke="#000" stroke-width="0.3">Time (s)</text>
<text x="318.6" y="215.8" font-size="14.8" text-anchor="middle" fill="#000" font-weight="bold" textLength="117" lengthAdjust="spacingAndGlyphs" stroke="#000" stroke-width="0.35">Distance (um)</text>
<text x="397.6" y="11.8" font-size="15" text-anchor="start" fill="#000" textLength="14" lengthAdjust="spacingAndGlyphs">B.</text>
<text x="519.6" y="22.2" font-size="10.5" text-anchor="middle" fill="#000" font-weight="bold" textLength="107.6" lengthAdjust="spacingAndGlyphs">Directionality of SEs</text>
<rect x="447.8" y="58.0" width="35.5" height="16.3" fill="#0433ff" stroke="#000" stroke-width="1.2"/>
<rect x="447.8" y="74.3" width="35.5" height="15.8" fill="#ff2600" stroke="#000" stroke-width="1.2"/>
<rect x="447.8" y="90.0" width="35.5" height="66.5" fill="#008f00" stroke="#000" stroke-width="1.2"/>
<path d="M465.6 90.0V76.7M456.2 76.7h18.8M465.6 74.3V63.9M456.2 63.9h18.8M465.6 58.0V49.1M456.2 49.1h18.8" stroke="#000" stroke-width="1.2" fill="none"/>
<path d="M465.6 156.5v5" stroke="#000" stroke-width="1.5"/>
<rect x="501.4" y="58.0" width="35.5" height="30.0" fill="#0433ff" stroke="#000" stroke-width="1.2"/>
<rect x="501.4" y="88.0" width="35.5" height="36.9" fill="#ff2600" stroke="#000" stroke-width="1.2"/>
<rect x="501.4" y="125.0" width="35.5" height="31.5" fill="#008f00" stroke="#000" stroke-width="1.2"/>
<path d="M519.1 125.0V117.1M509.8 117.1h18.8M519.1 88.0V79.7M509.8 79.7h18.8M519.1 58.0V46.7M509.8 46.7h18.8" stroke="#000" stroke-width="1.2" fill="none"/>
<path d="M519.1 156.5v5" stroke="#000" stroke-width="1.5"/>
<rect x="555.1" y="58.0" width="35.6" height="50.2" fill="#0433ff" stroke="#000" stroke-width="1.2"/>
<rect x="555.1" y="108.2" width="35.6" height="25.6" fill="#ff2600" stroke="#000" stroke-width="1.2"/>
<rect x="555.1" y="133.8" width="35.6" height="22.7" fill="#008f00" stroke="#000" stroke-width="1.2"/>
<path d="M572.9 133.8V126.0M563.5 126.0h18.8M572.9 108.2V99.4M563.5 99.4h18.8M572.9 58.0V46.7M563.5 46.7h18.8" stroke="#000" stroke-width="1.2" fill="none"/>
<path d="M572.9 156.5v5" stroke="#000" stroke-width="1.5"/>
<path d="M430 38.5V157.4M429.1 156.5H608" stroke="#000" stroke-width="1.8" fill="none"/>
<path d="M425.5 156.5h4.5M425.5 131.9h4.5M425.5 107.2h4.5M425.5 82.6h4.5M425.5 58.0h4.5" stroke="#000" stroke-width="1.5" fill="none"/>
<text x="425.2" y="159.5" font-size="9" text-anchor="end" fill="#000" font-weight="bold">0</text>
<text x="425.2" y="134.875" font-size="9" text-anchor="end" fill="#000" font-weight="bold">25</text>
<text x="425.2" y="110.25" font-size="9" text-anchor="end" fill="#000" font-weight="bold">50</text>
<text x="425.2" y="85.625" font-size="9" text-anchor="end" fill="#000" font-weight="bold">75</text>
<text x="425.2" y="61.0" font-size="9" text-anchor="end" fill="#000" font-weight="bold">100</text>
<text x="405.4" y="97.5" font-size="9.5" text-anchor="middle" fill="#000" font-weight="bold" textLength="95" lengthAdjust="spacingAndGlyphs" transform="rotate(-90 405.4 97.5)">% Movement Events</text>
<text font-size="9.5" font-weight="bold" text-anchor="end" transform="translate(469.1 167.5) rotate(-45)">Axonal SEs</text>
<text font-size="9.5" font-weight="bold" text-anchor="end" transform="translate(522.7 167.5) rotate(-45)">Dendritic SEs</text>
<text font-size="9.5" font-weight="bold" text-anchor="end" transform="translate(576.4 167.5) rotate(-45)">PTSEs</text>
<rect x="612.3" y="42.3" width="13.2" height="7.2" fill="#0433ff" stroke="#000" stroke-width="1.1"/>
<text x="632.2" y="49.599999999999994" font-size="9.6" text-anchor="start" fill="#000">Stationary</text>
<rect x="612.3" y="58.8" width="13.2" height="7.2" fill="#ff2600" stroke="#000" stroke-width="1.1"/>
<text x="632.2" y="66.1" font-size="9.6" text-anchor="start" fill="#000">Anterograde</text>
<rect x="612.3" y="75.5" width="13.2" height="7.2" fill="#008f00" stroke="#000" stroke-width="1.1"/>
<text x="632.2" y="82.8" font-size="9.6" text-anchor="start" fill="#000">Retrograde</text>
<text x="11.7" y="233.8" font-size="15" text-anchor="start" fill="#000" textLength="13.9" lengthAdjust="spacingAndGlyphs">C.</text>
<text x="129.5" y="237.6" font-size="9.8" text-anchor="middle" fill="#000" font-weight="bold">Retrograde PTSE Speed</text>
<path d="M52.2 249.10000000000002V353.09999999999997M51.5 352.4H206" stroke="#000" stroke-width="1.5" fill="none"/>
<text x="47.400000000000006" y="355.2" font-size="7.8" text-anchor="end" fill="#000" font-weight="bold">0</text>
<text x="47.400000000000006" y="321.0" font-size="7.8" text-anchor="end" fill="#000" font-weight="bold">100</text>
<text x="47.400000000000006" y="286.8" font-size="7.8" text-anchor="end" fill="#000" font-weight="bold">200</text>
<text x="47.400000000000006" y="252.6" font-size="7.8" text-anchor="end" fill="#000" font-weight="bold">300</text>
<path d="M48.0 352.4h4.2M48.0 318.2h4.2M48.0 284.0h4.2M48.0 249.8h4.2" stroke="#000" stroke-width="1.3" fill="none"/>
<path d="M54.20 352.4v-3.8h6.6v3.8zM62.18 352.4v-21.9h6.6v21.9zM70.16 352.4v-70.1h6.6v70.1zM78.14 352.4v-95.8h6.6v95.8zM86.12 352.4v-88.6h6.6v88.6zM94.10 352.4v-53.4h6.6v53.4zM102.08 352.4v-41.0h6.6v41.0zM110.06 352.4v-23.3h6.6v23.3zM118.04 352.4v-16.4h6.6v16.4zM126.02 352.4v-6.2h6.6v6.2zM134.00 352.4v-5.8h6.6v5.8zM141.98 352.4v-4.8h6.6v4.8zM149.96 352.4v-3.1h6.6v3.1zM157.94 352.4v-2.7h6.6v2.7zM165.92 352.4v-0.5h6.6v0.5zM173.90 352.4v-0.9h6.6v0.9zM181.88 352.4v-0.9h6.6v0.9zM189.86 352.4v-0.5h6.6v0.5zM197.84 352.4v-0.9h6.6v0.9z" fill="#000"/>
<text font-size="8" font-weight="bold" text-anchor="end" transform="translate(60.10 361.0) rotate(-45)">0.1</text>
<text font-size="8" font-weight="bold" text-anchor="end" transform="translate(68.08 361.0) rotate(-45)">0.2</text>
<text font-size="8" font-weight="bold" text-anchor="end" transform="translate(76.06 361.0) rotate(-45)">0.3</text>
<text font-size="8" font-weight="bold" text-anchor="end" transform="translate(84.04 361.0) rotate(-45)">0.4</text>
<text font-size="8" font-weight="bold" text-anchor="end" transform="translate(92.02 361.0) rotate(-45)">0.5</text>
<text font-size="8" font-weight="bold" text-anchor="end" transform="translate(100.00 361.0) rotate(-45)">0.6</text>
<text font-size="8" font-weight="bold" text-anchor="end" transform="translate(107.98 361.0) rotate(-45)">0.7</text>
<text font-size="8" font-weight="bold" text-anchor="end" transform="translate(115.96 361.0) rotate(-45)">0.8</text>
<text font-size="8" font-weight="bold" text-anchor="end" transform="translate(123.94 361.0) rotate(-45)">0.9</text>
<text font-size="8" font-weight="bold" text-anchor="end" transform="translate(131.92 361.0) rotate(-45)">1.0</text>
<text font-size="8" font-weight="bold" text-anchor="end" transform="translate(139.90 361.0) rotate(-45)">1.1</text>
<text font-size="8" font-weight="bold" text-anchor="end" transform="translate(147.88 361.0) rotate(-45)">1.2</text>
<text font-size="8" font-weight="bold" text-anchor="end" transform="translate(155.86 361.0) rotate(-45)">1.3</text>
<text font-size="8" font-weight="bold" text-anchor="end" transform="translate(163.84 361.0) rotate(-45)">1.4</text>
<text font-size="8" font-weight="bold" text-anchor="end" transform="translate(171.82 361.0) rotate(-45)">1.5</text>
<text font-size="8" font-weight="bold" text-anchor="end" transform="translate(179.80 361.0) rotate(-45)">1.6</text>
<text font-size="8" font-weight="bold" text-anchor="end" transform="translate(187.78 361.0) rotate(-45)">1.7</text>
<text font-size="8" font-weight="bold" text-anchor="end" transform="translate(195.76 361.0) rotate(-45)">1.8</text>
<text font-size="8" font-weight="bold" text-anchor="end" transform="translate(203.74 361.0) rotate(-45)">1.9</text>
<path d="M57.50 352.4v4M65.48 352.4v4M73.46 352.4v4M81.44 352.4v4M89.42 352.4v4M97.40 352.4v4M105.38 352.4v4M113.36 352.4v4M121.34 352.4v4M129.32 352.4v4M137.30 352.4v4M145.28 352.4v4M153.26 352.4v4M161.24 352.4v4M169.22 352.4v4M177.20 352.4v4M185.18 352.4v4M193.16 352.4v4M201.14 352.4v4" stroke="#000" stroke-width="1.1" fill="none"/>
<text x="128.7" y="380.8" font-size="8.2" text-anchor="middle" fill="#000" font-weight="bold">Speed (um/s)</text>
<text x="30.4" y="300.8" font-size="8.4" text-anchor="middle" fill="#000" font-weight="bold" transform="rotate(-90 30.4 300.8)">Number of values</text>
<text x="227.5" y="233.8" font-size="15" text-anchor="start" fill="#000" textLength="15.1" lengthAdjust="spacingAndGlyphs">D.</text>
<text x="334.5" y="237.6" font-size="9.8" text-anchor="middle" fill="#000" font-weight="bold">Anterograde PTSE Speed</text>
<path d="M258.3 249.0V353.0M257.6 352.3H411.6" stroke="#000" stroke-width="1.5" fill="none"/>
<text x="253.5" y="355.1" font-size="7.8" text-anchor="end" fill="#000" font-weight="bold">0</text>
<text x="253.5" y="329.45000000000005" font-size="7.8" text-anchor="end" fill="#000" font-weight="bold">100</text>
<text x="253.5" y="303.8" font-size="7.8" text-anchor="end" fill="#000" font-weight="bold">200</text>
<text x="253.5" y="278.15000000000003" font-size="7.8" text-anchor="end" fill="#000" font-weight="bold">300</text>
<text x="253.5" y="252.50000000000003" font-size="7.8" text-anchor="end" fill="#000" font-weight="bold">400</text>
<path d="M254.10000000000002 352.3h4.2M254.10000000000002 326.7h4.2M254.10000000000002 301.0h4.2M254.10000000000002 275.4h4.2M254.10000000000002 249.7h4.2" stroke="#000" stroke-width="1.3" fill="none"/>
<path d="M267.39 352.3v-5.4h6.4v5.4zM274.98 352.3v-17.4h6.4v17.4zM282.57 352.3v-53.4h6.4v53.4zM290.16 352.3v-85.4h6.4v85.4zM297.75 352.3v-65.7h6.4v65.7zM305.34 352.3v-43.3h6.4v43.3zM312.93 352.3v-25.6h6.4v25.6zM320.52 352.3v-16.7h6.4v16.7zM328.11 352.3v-9.2h6.4v9.2zM335.70 352.3v-6.7h6.4v6.7zM343.29 352.3v-5.1h6.4v5.1zM350.88 352.3v-3.6h6.4v3.6zM358.47 352.3v-1.5h6.4v1.5zM366.06 352.3v-2.1h6.4v2.1zM373.65 352.3v-0.8h6.4v0.8zM381.24 352.3v-0.8h6.4v0.8zM388.83 352.3v-0.5h6.4v0.5zM396.42 352.3v-1.0h6.4v1.0zM404.01 352.3v-0.5h6.4v0.5z" fill="#000"/>
<text font-size="8" font-weight="bold" text-anchor="end" transform="translate(265.60 360.90000000000003) rotate(-45)">0.0</text>
<text font-size="8" font-weight="bold" text-anchor="end" transform="translate(273.19 360.90000000000003) rotate(-45)">0.1</text>
<text font-size="8" font-weight="bold" text-anchor="end" transform="translate(280.78 360.90000000000003) rotate(-45)">0.2</text>
<text font-size="8" font-weight="bold" text-anchor="end" transform="translate(288.37 360.90000000000003) rotate(-45)">0.3</text>
<text font-size="8" font-weight="bold" text-anchor="end" transform="translate(295.96 360.90000000000003) rotate(-45)">0.4</text>
<text font-size="8" font-weight="bold" text-anchor="end" transform="translate(303.55 360.90000000000003) rotate(-45)">0.5</text>
<text font-size="8" font-weight="bold" text-anchor="end" transform="translate(311.14 360.90000000000003) rotate(-45)">0.6</text>
<text font-size="8" font-weight="bold" text-anchor="end" transform="translate(318.73 360.90000000000003) rotate(-45)">0.7</text>
<text font-size="8" font-weight="bold" text-anchor="end" transform="translate(326.32 360.90000000000003) rotate(-45)">0.8</text>
<text font-size="8" font-weight="bold" text-anchor="end" transform="translate(333.91 360.90000000000003) rotate(-45)">0.9</text>
<text font-size="8" font-weight="bold" text-anchor="end" transform="translate(341.50 360.90000000000003) rotate(-45)">1.0</text>
<text font-size="8" font-weight="bold" text-anchor="end" transform="translate(349.09 360.90000000000003) rotate(-45)">1.1</text>
<text font-size="8" font-weight="bold" text-anchor="end" transform="translate(356.68 360.90000000000003) rotate(-45)">1.2</text>
<text font-size="8" font-weight="bold" text-anchor="end" transform="translate(364.27 360.90000000000003) rotate(-45)">1.3</text>
<text font-size="8" font-weight="bold" text-anchor="end" transform="translate(371.86 360.90000000000003) rotate(-45)">1.4</text>
<text font-size="8" font-weight="bold" text-anchor="end" transform="translate(379.45 360.90000000000003) rotate(-45)">1.5</text>
<text font-size="8" font-weight="bold" text-anchor="end" transform="translate(387.04 360.90000000000003) rotate(-45)">1.6</text>
<text font-size="8" font-weight="bold" text-anchor="end" transform="translate(394.63 360.90000000000003) rotate(-45)">1.7</text>
<text font-size="8" font-weight="bold" text-anchor="end" transform="translate(402.22 360.90000000000003) rotate(-45)">1.8</text>
<text font-size="8" font-weight="bold" text-anchor="end" transform="translate(409.81 360.90000000000003) rotate(-45)">1.9</text>
<path d="M263.00 352.3v4M270.59 352.3v4M278.18 352.3v4M285.77 352.3v4M293.36 352.3v4M300.95 352.3v4M308.54 352.3v4M316.13 352.3v4M323.72 352.3v4M331.31 352.3v4M338.90 352.3v4M346.49 352.3v4M354.08 352.3v4M361.67 352.3v4M369.26 352.3v4M376.85 352.3v4M384.44 352.3v4M392.03 352.3v4M399.62 352.3v4M407.21 352.3v4" stroke="#000" stroke-width="1.1" fill="none"/>
<text x="334.5" y="380.8" font-size="8.2" text-anchor="middle" fill="#000" font-weight="bold">Speed (um/s)</text>
<text x="235.8" y="300.8" font-size="8.4" text-anchor="middle" fill="#000" font-weight="bold" transform="rotate(-90 235.8 300.8)">Number of values</text>
<text x="412.7" y="233.7" font-size="15" text-anchor="start" fill="#000" textLength="13" lengthAdjust="spacingAndGlyphs">E.</text>
<rect x="433.2" y="250.4" width="247.2" height="107.70000000000002" fill="#fff" stroke="#000" stroke-width="1.2"/>
<rect x="433.2" y="250.4" width="247.2" height="20.400000000000006" fill="none" stroke="#000" stroke-width="2"/>
<rect x="433.2" y="304.2" width="247.2" height="21.100000000000023" fill="none" stroke="#000" stroke-width="2"/>
<path d="M433.2 287.2H680.4M433.2 341.5H680.4M518.7 270.8V304.2M518.7 325.3V358.1M614.6 325.3V358.1" stroke="#000" stroke-width="1" fill="none"/>
<text x="558.2" y="265.6" font-size="11.5" text-anchor="middle" fill="#000" font-weight="bold" textLength="158.5" lengthAdjust="spacingAndGlyphs">Anterograde Speed (um/s)</text>
<text x="557" y="320.2" font-size="11.5" text-anchor="middle" fill="#000" font-weight="bold" textLength="150" lengthAdjust="spacingAndGlyphs">Retrograde Speed (um/s)</text>
<text x="436.8" y="283.7" font-size="10" text-anchor="start" fill="#000" textLength="22.4" lengthAdjust="spacingAndGlyphs">PTSE</text>
<text x="522" y="283.7" font-size="10" text-anchor="start" fill="#000" textLength="56.5" lengthAdjust="spacingAndGlyphs">SE dendrite</text>
<text x="436.8" y="300.4" font-size="10" text-anchor="start" fill="#000" textLength="53.5" lengthAdjust="spacingAndGlyphs">0.45 ± 0.11</text>
<text x="522" y="300.4" font-size="10" text-anchor="start" fill="#000" textLength="53.5" lengthAdjust="spacingAndGlyphs">0.71 ± 0.28</text>
<text x="436.8" y="338.4" font-size="10" text-anchor="start" fill="#000" textLength="22.4" lengthAdjust="spacingAndGlyphs">PTSE</text>
<text x="522" y="338.4" font-size="10" text-anchor="start" fill="#000" textLength="56.5" lengthAdjust="spacingAndGlyphs">SE dendrite</text>
<text x="617.6" y="338.4" font-size="10" text-anchor="start" fill="#000" textLength="38.5" lengthAdjust="spacingAndGlyphs">SE axon</text>
<text x="436.8" y="354.8" font-size="10" text-anchor="start" fill="#000" textLength="53.5" lengthAdjust="spacingAndGlyphs">0.52 ± 0.08</text>
<text x="522" y="354.8" font-size="10" text-anchor="start" fill="#000" textLength="53.5" lengthAdjust="spacingAndGlyphs">0.67 ± 0.26</text>
<text x="617.6" y="354.8" font-size="10" text-anchor="start" fill="#000" textLength="53.5" lengthAdjust="spacingAndGlyphs">0.99 ± 0.29</text>
</svg>
</body></html>
